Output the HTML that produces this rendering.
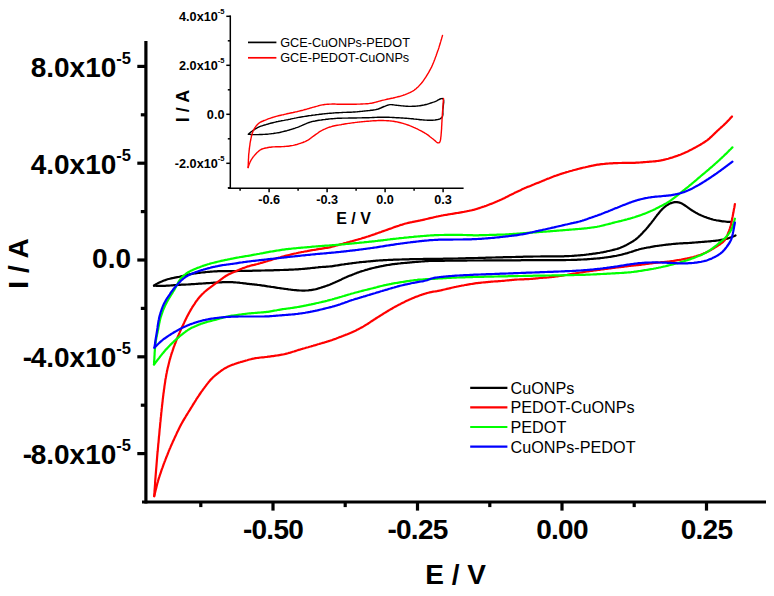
<!DOCTYPE html>
<html><head><meta charset="utf-8"><title>CV plot</title>
<style>html,body{margin:0;padding:0;background:#fff;}body{width:774px;height:596px;overflow:hidden;}svg{display:block;font-family:"Liberation Sans",sans-serif;}</style>
</head><body>
<svg width="774" height="596" viewBox="0 0 774 596">
<rect x="0" y="0" width="774" height="596" fill="#fff"/>
<path d="M154.0,285.6 L155.0,284.9 L156.1,284.2 L157.2,283.6 L158.3,283.0 L159.4,282.5 L160.5,282.0 L161.7,281.5 L162.8,281.0 L164.0,280.5 L165.2,280.1 L166.3,279.7 L167.5,279.3 L168.7,279.0 L169.9,278.7 L171.2,278.4 L172.4,278.1 L173.6,277.9 L174.8,277.6 L176.1,277.4 L177.3,277.2 L178.5,277.0 L179.7,276.7 L181.0,276.4 L182.2,276.1 L183.4,275.8 L184.6,275.5 L185.8,275.2 L187.0,274.9 L188.2,274.6 L189.5,274.4 L190.7,274.1 L191.9,273.9 L193.1,273.7 L194.4,273.5 L195.6,273.3 L196.8,273.1 L198.1,272.9 L199.3,272.8 L200.6,272.6 L201.8,272.5 L203.1,272.4 L204.3,272.3 L205.5,272.1 L206.8,272.0 L208.0,271.9 L209.3,271.8 L210.5,271.7 L211.8,271.6 L213.0,271.5 L214.3,271.4 L215.5,271.4 L216.8,271.3 L218.0,271.2 L219.3,271.2 L220.5,271.2 L221.8,271.1 L223.0,271.1 L224.3,271.1 L225.5,271.1 L226.8,271.1 L228.0,271.1 L229.3,271.1 L230.5,271.1 L231.8,271.1 L233.0,271.1 L234.3,271.1 L235.5,271.1 L236.8,271.1 L238.0,271.0 L239.3,271.0 L240.5,271.0 L241.8,271.0 L243.0,271.0 L244.3,270.9 L245.5,270.9 L246.8,270.9 L248.0,270.8 L249.3,270.8 L250.5,270.8 L251.8,270.8 L253.0,270.7 L254.3,270.7 L255.5,270.7 L256.8,270.6 L258.0,270.6 L259.3,270.6 L260.5,270.6 L261.8,270.5 L263.0,270.5 L264.3,270.5 L265.5,270.4 L266.8,270.4 L268.0,270.4 L269.3,270.3 L270.5,270.3 L271.8,270.3 L273.0,270.3 L274.3,270.2 L275.5,270.2 L276.8,270.1 L278.0,270.1 L279.3,270.1 L280.5,270.0 L281.8,270.0 L283.0,270.0 L284.2,269.9 L285.5,269.9 L286.7,269.8 L288.0,269.8 L289.2,269.7 L290.5,269.7 L291.7,269.6 L293.0,269.6 L294.2,269.5 L295.5,269.4 L296.7,269.4 L298.0,269.3 L299.2,269.2 L300.5,269.1 L301.7,269.0 L303.0,268.9 L304.2,268.8 L305.5,268.7 L306.7,268.6 L307.9,268.4 L309.2,268.3 L310.4,268.2 L311.7,268.0 L312.9,267.9 L314.2,267.8 L315.4,267.6 L316.6,267.5 L317.9,267.4 L319.1,267.2 L320.4,267.1 L321.6,267.0 L322.9,266.9 L324.1,266.9 L325.4,266.8 L326.6,266.7 L327.9,266.6 L329.1,266.5 L330.4,266.4 L331.6,266.3 L332.8,266.1 L334.1,265.9 L335.3,265.7 L336.5,265.5 L337.8,265.3 L339.0,265.1 L340.2,264.9 L341.5,264.7 L342.7,264.5 L343.9,264.4 L345.2,264.2 L346.4,264.0 L347.7,263.8 L348.9,263.6 L350.1,263.5 L351.4,263.3 L352.6,263.1 L353.8,263.0 L355.1,262.8 L356.3,262.7 L357.6,262.5 L358.8,262.4 L360.1,262.2 L361.3,262.1 L362.5,262.0 L363.8,261.9 L365.0,261.8 L366.3,261.6 L367.5,261.5 L368.8,261.4 L370.0,261.3 L371.3,261.2 L372.5,261.1 L373.7,260.9 L375.0,260.8 L376.2,260.7 L377.5,260.6 L378.7,260.5 L380.0,260.4 L381.2,260.3 L382.5,260.3 L383.7,260.2 L385.0,260.1 L386.2,260.1 L387.5,260.0 L388.7,259.9 L390.0,259.9 L391.2,259.8 L392.5,259.8 L393.7,259.7 L395.0,259.7 L396.2,259.6 L397.5,259.6 L398.7,259.6 L400.0,259.5 L401.2,259.5 L402.5,259.4 L403.7,259.4 L405.0,259.4 L406.2,259.3 L407.5,259.3 L408.7,259.3 L410.0,259.2 L411.2,259.2 L412.5,259.2 L413.7,259.1 L415.0,259.1 L416.2,259.1 L417.5,259.1 L418.7,259.0 L420.0,259.0 L421.2,259.0 L422.5,259.0 L423.7,258.9 L424.9,258.9 L426.2,258.9 L427.4,258.9 L428.6,258.8 L429.7,258.8 L430.7,258.8 L431.7,258.9 L432.7,258.9 L433.8,258.9 L435.0,258.9 L436.2,258.9 L437.5,258.8 L438.7,258.8 L440.0,258.8 L441.2,258.8 L442.5,258.8 L443.7,258.7 L445.0,258.7 L446.2,258.7 L447.5,258.7 L448.7,258.6 L450.0,258.6 L451.2,258.6 L452.5,258.6 L453.7,258.5 L455.0,258.5 L456.2,258.5 L457.5,258.5 L458.7,258.4 L460.0,258.4 L461.2,258.4 L462.5,258.3 L463.7,258.3 L465.0,258.3 L466.2,258.2 L467.5,258.2 L468.7,258.2 L470.0,258.1 L471.2,258.1 L472.4,258.1 L473.7,258.1 L474.9,258.0 L476.2,258.0 L477.4,258.0 L478.7,257.9 L479.9,257.9 L481.2,257.9 L482.4,257.8 L483.7,257.8 L484.9,257.8 L486.2,257.7 L487.4,257.7 L488.7,257.6 L489.9,257.6 L491.2,257.6 L492.4,257.5 L493.7,257.5 L494.9,257.5 L496.2,257.4 L497.4,257.4 L498.7,257.4 L499.9,257.3 L501.2,257.3 L502.4,257.3 L503.7,257.2 L504.9,257.2 L506.2,257.2 L507.4,257.2 L508.7,257.1 L509.9,257.1 L511.2,257.1 L512.4,257.0 L513.7,257.0 L514.9,257.0 L516.2,256.9 L517.4,256.9 L518.7,256.9 L519.9,256.8 L521.2,256.8 L522.4,256.8 L523.7,256.7 L524.9,256.7 L526.2,256.7 L527.4,256.7 L528.7,256.6 L529.9,256.6 L531.2,256.6 L532.4,256.6 L533.7,256.5 L534.9,256.5 L536.2,256.5 L537.4,256.5 L538.7,256.5 L539.9,256.5 L541.2,256.4 L542.4,256.4 L543.7,256.4 L544.9,256.4 L546.2,256.4 L547.4,256.4 L548.7,256.4 L549.9,256.4 L551.2,256.4 L552.4,256.4 L553.7,256.4 L554.9,256.4 L556.2,256.4 L557.4,256.4 L558.7,256.4 L559.9,256.3 L561.2,256.3 L562.4,256.3 L563.7,256.3 L564.9,256.2 L566.2,256.2 L567.4,256.1 L568.7,256.1 L569.9,256.0 L571.2,256.0 L572.4,255.9 L573.7,255.8 L574.9,255.7 L576.2,255.6 L577.4,255.5 L578.7,255.4 L579.9,255.3 L581.2,255.2 L582.4,255.1 L583.6,255.0 L584.9,254.8 L586.1,254.7 L587.4,254.5 L588.6,254.4 L589.8,254.2 L591.1,254.1 L592.3,253.9 L593.6,253.7 L594.8,253.6 L596.0,253.4 L597.3,253.2 L598.5,253.0 L599.7,252.8 L601.0,252.5 L602.2,252.3 L603.4,252.1 L604.6,251.8 L605.9,251.6 L607.1,251.3 L608.3,251.0 L609.5,250.8 L610.8,250.5 L612.0,250.2 L613.2,249.9 L614.4,249.6 L615.6,249.3 L616.8,249.0 L618.0,248.6 L619.2,248.2 L620.4,247.8 L621.5,247.3 L622.7,246.8 L623.8,246.3 L624.9,245.7 L626.0,245.2 L627.1,244.6 L628.2,244.0 L629.3,243.4 L630.4,242.8 L631.5,242.1 L632.6,241.5 L633.6,240.8 L634.7,240.1 L635.7,239.4 L636.6,238.6 L637.6,237.8 L638.5,237.0 L639.4,236.1 L640.3,235.3 L641.2,234.4 L642.1,233.5 L642.9,232.6 L643.8,231.6 L644.6,230.7 L645.5,229.8 L646.3,228.9 L647.1,227.9 L647.9,227.0 L648.7,226.0 L649.5,225.0 L650.3,224.1 L651.1,223.1 L651.8,222.1 L652.6,221.1 L653.4,220.1 L654.1,219.1 L654.9,218.1 L655.6,217.1 L656.4,216.1 L657.1,215.1 L657.9,214.2 L658.7,213.2 L659.5,212.2 L660.3,211.3 L661.2,210.3 L662.0,209.4 L662.9,208.5 L663.8,207.7 L664.7,206.9 L665.7,206.1 L666.7,205.4 L667.8,204.7 L668.9,204.1 L670.0,203.6 L671.1,203.1 L672.3,202.7 L673.5,202.4 L674.7,202.2 L675.9,202.1 L677.1,202.1 L678.4,202.3 L679.5,202.6 L680.7,203.0 L681.8,203.5 L682.9,204.1 L683.9,204.8 L685.0,205.5 L686.0,206.2 L687.0,206.9 L688.0,207.6 L689.1,208.4 L690.1,209.1 L691.1,209.8 L692.2,210.5 L693.2,211.1 L694.3,211.8 L695.3,212.4 L696.4,213.1 L697.5,213.6 L698.6,214.2 L699.8,214.7 L700.9,215.3 L702.1,215.8 L703.2,216.2 L704.4,216.7 L705.5,217.1 L706.7,217.6 L707.9,218.0 L709.1,218.4 L710.3,218.8 L711.5,219.1 L712.7,219.5 L713.9,219.8 L715.1,220.0 L716.3,220.3 L717.5,220.5 L718.8,220.7 L720.0,220.9 L721.2,221.1 L722.5,221.3 L723.7,221.4 L725.0,221.5 L726.2,221.7 L727.5,221.8 L728.7,221.9 L730.0,221.9 L731.2,222.0" fill="none" stroke="#000" stroke-width="2.2" stroke-linejoin="round" stroke-linecap="round"/>
<path d="M735.5,235.5 L734.4,236.0 L733.2,236.5 L732.0,237.0 L730.9,237.4 L729.7,237.8 L728.5,238.2 L727.3,238.6 L726.1,238.9 L724.9,239.2 L723.7,239.4 L722.4,239.7 L721.2,239.9 L720.0,240.1 L718.7,240.3 L717.5,240.5 L716.3,240.6 L715.0,240.8 L713.8,240.9 L712.5,241.0 L711.3,241.1 L710.0,241.3 L708.8,241.4 L707.5,241.5 L706.3,241.6 L705.1,241.7 L703.8,241.8 L702.6,241.9 L701.3,242.0 L700.1,242.1 L698.8,242.2 L697.6,242.3 L696.3,242.4 L695.1,242.5 L693.8,242.6 L692.6,242.7 L691.3,242.8 L690.1,242.9 L688.8,243.0 L687.6,243.1 L686.3,243.1 L685.1,243.2 L683.8,243.2 L682.6,243.3 L681.3,243.4 L680.1,243.4 L678.8,243.5 L677.6,243.6 L676.4,243.7 L675.1,243.8 L673.9,243.9 L672.6,244.0 L671.4,244.2 L670.1,244.3 L668.9,244.4 L667.6,244.6 L666.4,244.7 L665.2,244.8 L663.9,245.0 L662.7,245.2 L661.4,245.3 L660.2,245.5 L659.0,245.7 L657.7,245.8 L656.5,246.0 L655.2,246.2 L654.0,246.4 L652.8,246.6 L651.5,246.8 L650.3,247.1 L649.1,247.3 L647.8,247.5 L646.6,247.7 L645.4,248.0 L644.2,248.2 L642.9,248.5 L641.7,248.7 L640.5,249.0 L639.3,249.3 L638.1,249.7 L636.9,250.0 L635.7,250.4 L634.5,250.8 L633.3,251.2 L632.1,251.6 L630.9,252.0 L629.7,252.3 L628.5,252.7 L627.3,253.1 L626.1,253.4 L624.9,253.7 L623.7,254.0 L622.5,254.4 L621.3,254.7 L620.1,255.0 L618.9,255.2 L617.6,255.5 L616.4,255.8 L615.2,256.0 L614.0,256.2 L612.7,256.4 L611.5,256.6 L610.3,256.8 L609.0,257.0 L607.8,257.2 L606.5,257.3 L605.3,257.5 L604.1,257.7 L602.8,257.8 L601.6,258.0 L600.3,258.1 L599.1,258.3 L597.8,258.4 L596.6,258.5 L595.4,258.6 L594.1,258.7 L592.9,258.8 L591.6,258.9 L590.4,259.0 L589.1,259.1 L587.9,259.2 L586.6,259.3 L585.4,259.3 L584.1,259.4 L582.9,259.5 L581.6,259.5 L580.4,259.6 L579.1,259.7 L577.9,259.7 L576.6,259.8 L575.4,259.8 L574.1,259.8 L572.9,259.9 L571.6,259.9 L570.4,260.0 L569.1,260.0 L567.9,260.0 L566.6,260.0 L565.4,260.1 L564.1,260.1 L562.9,260.1 L561.6,260.1 L560.4,260.1 L559.1,260.1 L557.9,260.1 L556.6,260.1 L555.4,260.1 L554.1,260.2 L552.9,260.2 L551.6,260.2 L550.4,260.2 L549.1,260.2 L547.9,260.2 L546.6,260.2 L545.4,260.2 L544.1,260.2 L542.9,260.2 L541.6,260.2 L540.4,260.2 L539.1,260.2 L537.8,260.2 L536.6,260.2 L535.3,260.2 L534.1,260.2 L532.8,260.2 L531.6,260.2 L530.3,260.2 L529.1,260.2 L527.8,260.2 L526.6,260.2 L525.3,260.2 L524.1,260.2 L522.8,260.2 L521.6,260.2 L520.3,260.3 L519.1,260.3 L517.8,260.3 L516.6,260.3 L515.3,260.3 L514.1,260.3 L512.8,260.3 L511.6,260.3 L510.3,260.3 L509.1,260.3 L507.8,260.3 L506.6,260.3 L505.3,260.3 L504.1,260.3 L502.8,260.3 L501.6,260.3 L500.3,260.4 L499.1,260.4 L497.8,260.4 L496.6,260.4 L495.3,260.4 L494.1,260.4 L492.8,260.4 L491.6,260.4 L490.3,260.4 L489.1,260.4 L487.8,260.4 L486.6,260.4 L485.3,260.4 L484.1,260.4 L482.8,260.5 L481.5,260.5 L480.3,260.5 L479.0,260.5 L477.8,260.5 L476.5,260.5 L475.3,260.5 L474.0,260.5 L472.8,260.5 L471.5,260.5 L470.3,260.5 L469.0,260.5 L467.8,260.5 L466.5,260.6 L465.3,260.6 L464.0,260.6 L462.8,260.6 L461.5,260.6 L460.3,260.6 L459.0,260.6 L457.8,260.6 L456.5,260.6 L455.3,260.6 L454.0,260.7 L452.8,260.7 L451.5,260.7 L450.3,260.7 L449.0,260.7 L447.8,260.7 L446.5,260.7 L445.3,260.7 L444.0,260.8 L442.8,260.8 L441.5,260.8 L440.3,260.8 L439.0,260.8 L437.8,260.8 L436.5,260.9 L435.3,260.9 L434.0,260.9 L432.8,260.9 L431.5,261.0 L430.3,261.0 L429.0,261.0 L427.8,261.1 L426.5,261.1 L425.3,261.2 L424.0,261.3 L422.8,261.4 L421.5,261.5 L420.3,261.6 L419.0,261.7 L417.8,261.8 L416.5,261.9 L415.3,262.0 L414.0,262.1 L412.8,262.2 L411.5,262.3 L410.3,262.4 L409.1,262.6 L407.8,262.7 L406.6,262.8 L405.3,262.9 L404.1,263.0 L402.8,263.1 L401.6,263.2 L400.3,263.4 L399.1,263.5 L397.8,263.6 L396.6,263.8 L395.4,263.9 L394.1,264.1 L392.9,264.2 L391.6,264.4 L390.4,264.6 L389.2,264.8 L387.9,265.0 L386.7,265.2 L385.5,265.4 L384.2,265.6 L383.0,265.9 L381.8,266.1 L380.5,266.3 L379.3,266.6 L378.1,266.9 L376.9,267.1 L375.7,267.4 L374.4,267.7 L373.2,268.0 L372.0,268.3 L370.8,268.6 L369.6,268.9 L368.4,269.2 L367.2,269.6 L366.0,269.9 L364.8,270.3 L363.6,270.7 L362.4,271.0 L361.2,271.4 L360.0,271.8 L358.8,272.2 L357.7,272.6 L356.5,273.1 L355.3,273.5 L354.1,274.0 L353.0,274.4 L351.8,274.9 L350.7,275.4 L349.5,275.8 L348.3,276.3 L347.2,276.8 L346.1,277.3 L344.9,277.8 L343.8,278.3 L342.6,278.8 L341.5,279.4 L340.3,279.9 L339.2,280.4 L338.1,280.9 L336.9,281.5 L335.8,282.0 L334.7,282.5 L333.5,283.0 L332.4,283.5 L331.2,284.0 L330.1,284.5 L328.9,285.0 L327.7,285.4 L326.6,285.8 L325.4,286.2 L324.2,286.6 L323.0,287.0 L321.8,287.4 L320.6,287.8 L319.4,288.1 L318.2,288.5 L317.0,288.9 L315.8,289.2 L314.6,289.5 L313.4,289.7 L312.2,289.9 L310.9,290.1 L309.7,290.2 L308.4,290.4 L307.2,290.5 L305.9,290.5 L304.7,290.6 L303.4,290.6 L302.2,290.6 L300.9,290.5 L299.7,290.5 L298.4,290.4 L297.2,290.3 L296.0,290.2 L294.7,290.1 L293.5,290.0 L292.2,289.8 L291.0,289.7 L289.7,289.5 L288.5,289.4 L287.3,289.2 L286.0,289.0 L284.8,288.8 L283.5,288.7 L282.3,288.5 L281.1,288.3 L279.8,288.1 L278.6,288.0 L277.3,287.8 L276.1,287.6 L274.9,287.4 L273.6,287.2 L272.4,287.0 L271.2,286.9 L269.9,286.7 L268.7,286.5 L267.4,286.3 L266.2,286.1 L265.0,285.9 L263.7,285.7 L262.5,285.6 L261.3,285.4 L260.0,285.2 L258.8,285.0 L257.5,284.9 L256.3,284.7 L255.1,284.6 L253.8,284.4 L252.6,284.3 L251.3,284.2 L250.1,284.1 L248.8,283.9 L247.6,283.8 L246.4,283.6 L245.1,283.4 L243.9,283.3 L242.6,283.1 L241.4,283.0 L240.2,282.9 L238.9,282.7 L237.7,282.6 L236.4,282.5 L235.2,282.4 L233.9,282.3 L232.7,282.2 L231.4,282.2 L230.2,282.2 L228.9,282.1 L227.7,282.1 L226.4,282.1 L225.2,282.1 L223.9,282.2 L222.7,282.2 L221.4,282.3 L220.2,282.3 L218.9,282.4 L217.7,282.5 L216.4,282.6 L215.2,282.7 L213.9,282.7 L212.7,282.8 L211.4,282.9 L210.2,283.0 L208.9,283.1 L207.7,283.2 L206.4,283.2 L205.2,283.3 L203.9,283.4 L202.7,283.5 L201.4,283.6 L200.2,283.7 L198.9,283.7 L197.7,283.8 L196.5,283.9 L195.2,284.0 L194.0,284.1 L192.7,284.2 L191.5,284.2 L190.2,284.3 L189.0,284.4 L187.7,284.5 L186.5,284.5 L185.2,284.6 L184.0,284.6 L182.7,284.7 L181.5,284.7 L180.2,284.8 L179.0,284.9 L177.7,285.0 L176.5,285.1 L175.2,285.1 L174.0,285.2 L172.7,285.3 L171.5,285.4 L170.2,285.5 L169.0,285.6 L167.7,285.6 L166.5,285.7 L165.2,285.8 L164.0,285.8 L162.7,285.9 L161.5,285.9 L160.2,285.9 L159.0,285.9 L157.7,285.9 L156.5,285.8 L155.2,285.7 L154.0,285.6" fill="none" stroke="#000" stroke-width="2.2" stroke-linejoin="round" stroke-linecap="round"/>
<path d="M154.2,496.2 L154.3,495.0 L154.4,493.7 L154.5,492.5 L154.5,491.2 L154.6,490.0 L154.7,488.7 L154.8,487.5 L154.9,486.2 L155.0,485.0 L155.1,483.7 L155.1,482.5 L155.2,481.2 L155.3,480.0 L155.4,478.7 L155.5,477.5 L155.6,476.2 L155.7,475.0 L155.8,473.7 L155.9,472.5 L156.0,471.2 L156.1,470.0 L156.2,468.7 L156.3,467.5 L156.4,466.3 L156.5,465.0 L156.6,463.8 L156.7,462.5 L156.8,461.3 L156.9,460.0 L157.0,458.8 L157.1,457.5 L157.2,456.3 L157.3,455.0 L157.4,453.8 L157.5,452.5 L157.7,451.3 L157.8,450.0 L157.9,448.8 L158.0,447.6 L158.1,446.3 L158.2,445.1 L158.3,443.8 L158.5,442.6 L158.6,441.3 L158.7,440.1 L158.8,438.8 L158.9,437.6 L159.0,436.3 L159.2,435.1 L159.3,433.9 L159.4,432.6 L159.5,431.4 L159.6,430.1 L159.7,428.9 L159.9,427.6 L160.0,426.4 L160.1,425.1 L160.2,423.9 L160.3,422.6 L160.5,421.4 L160.6,420.2 L160.7,418.9 L160.8,417.7 L161.0,416.4 L161.1,415.2 L161.2,413.9 L161.3,412.7 L161.5,411.4 L161.6,410.2 L161.7,409.0 L161.9,407.7 L162.0,406.5 L162.1,405.2 L162.3,404.0 L162.4,402.7 L162.6,401.5 L162.7,400.2 L162.8,399.0 L163.0,397.8 L163.1,396.5 L163.3,395.3 L163.4,394.0 L163.6,392.8 L163.8,391.6 L163.9,390.3 L164.1,389.1 L164.3,387.8 L164.4,386.6 L164.6,385.4 L164.8,384.1 L165.0,382.9 L165.2,381.6 L165.3,380.4 L165.5,379.2 L165.8,377.9 L166.0,376.7 L166.2,375.5 L166.4,374.2 L166.7,373.0 L166.9,371.8 L167.2,370.6 L167.4,369.4 L167.7,368.1 L168.0,366.9 L168.3,365.7 L168.6,364.5 L168.9,363.3 L169.2,362.1 L169.5,360.8 L169.8,359.6 L170.2,358.4 L170.5,357.2 L170.9,356.0 L171.2,354.8 L171.6,353.6 L172.0,352.4 L172.4,351.3 L172.8,350.1 L173.2,348.9 L173.6,347.7 L174.0,346.5 L174.5,345.4 L174.9,344.2 L175.4,343.0 L175.8,341.9 L176.3,340.7 L176.7,339.5 L177.2,338.4 L177.6,337.2 L178.1,336.0 L178.6,334.9 L179.1,333.7 L179.6,332.6 L180.1,331.4 L180.6,330.3 L181.1,329.2 L181.6,328.0 L182.2,326.9 L182.7,325.8 L183.2,324.6 L183.8,323.5 L184.3,322.4 L184.8,321.2 L185.4,320.1 L185.9,319.0 L186.5,317.9 L187.0,316.7 L187.6,315.6 L188.2,314.5 L188.8,313.4 L189.4,312.3 L190.0,311.2 L190.6,310.1 L191.2,309.1 L191.9,308.0 L192.5,306.9 L193.2,305.8 L193.9,304.8 L194.6,303.8 L195.3,302.7 L196.0,301.7 L196.7,300.7 L197.5,299.7 L198.2,298.7 L199.0,297.7 L199.8,296.8 L200.7,295.9 L201.5,294.9 L202.4,294.0 L203.3,293.2 L204.2,292.3 L205.1,291.5 L206.1,290.7 L207.0,289.9 L208.0,289.1 L209.0,288.3 L210.0,287.6 L211.0,286.8 L212.0,286.1 L213.0,285.3 L214.0,284.6 L215.0,283.8 L216.1,283.1 L217.1,282.4 L218.1,281.7 L219.1,281.0 L220.1,280.2 L221.1,279.4 L222.1,278.7 L223.1,277.9 L224.1,277.2 L225.1,276.5 L226.2,275.8 L227.2,275.2 L228.4,274.6 L229.5,274.1 L230.6,273.5 L231.7,273.0 L232.8,272.4 L234.0,271.9 L235.1,271.4 L236.3,270.9 L237.4,270.4 L238.6,270.0 L239.7,269.5 L240.9,269.0 L242.1,268.6 L243.2,268.1 L244.4,267.7 L245.6,267.3 L246.8,266.8 L247.9,266.4 L249.1,266.1 L250.3,265.7 L251.5,265.4 L252.8,265.1 L254.0,264.9 L255.2,264.6 L256.4,264.3 L257.6,264.0 L258.8,263.6 L260.0,263.3 L261.2,262.9 L262.4,262.6 L263.6,262.2 L264.8,261.9 L266.0,261.5 L267.2,261.2 L268.4,260.8 L269.6,260.4 L270.8,260.1 L272.0,259.7 L273.2,259.3 L274.4,259.0 L275.6,258.6 L276.8,258.2 L278.0,257.9 L279.2,257.5 L280.4,257.2 L281.6,256.8 L282.8,256.5 L284.0,256.2 L285.2,255.9 L286.4,255.6 L287.7,255.3 L288.9,255.0 L290.1,254.7 L291.3,254.4 L292.5,254.1 L293.7,253.8 L295.0,253.5 L296.2,253.3 L297.4,253.0 L298.6,252.7 L299.9,252.5 L301.1,252.2 L302.3,252.0 L303.5,251.8 L304.8,251.5 L306.0,251.3 L307.2,251.1 L308.5,250.8 L309.7,250.6 L310.9,250.4 L312.2,250.2 L313.4,250.0 L314.6,249.8 L315.9,249.6 L317.1,249.3 L318.3,249.1 L319.6,248.9 L320.8,248.8 L322.0,248.6 L323.3,248.4 L324.5,248.2 L325.7,248.0 L327.0,247.8 L328.2,247.6 L329.4,247.4 L330.7,247.1 L331.9,246.8 L333.1,246.5 L334.3,246.2 L335.5,245.8 L336.7,245.5 L337.9,245.1 L339.1,244.8 L340.3,244.4 L341.5,244.1 L342.7,243.8 L343.9,243.4 L345.1,243.1 L346.3,242.8 L347.5,242.4 L348.7,242.1 L349.9,241.7 L351.1,241.4 L352.4,241.1 L353.6,240.7 L354.8,240.4 L356.0,240.0 L357.2,239.7 L358.4,239.4 L359.6,239.0 L360.8,238.7 L362.0,238.3 L363.2,237.9 L364.4,237.6 L365.6,237.2 L366.8,236.8 L367.9,236.5 L369.1,236.1 L370.3,235.7 L371.5,235.3 L372.7,234.9 L373.9,234.5 L375.1,234.1 L376.2,233.6 L377.4,233.2 L378.6,232.8 L379.8,232.4 L381.0,232.0 L382.1,231.5 L383.3,231.1 L384.5,230.7 L385.7,230.3 L386.8,229.9 L388.0,229.4 L389.2,229.0 L390.4,228.6 L391.6,228.2 L392.7,227.8 L393.9,227.3 L395.1,226.9 L396.3,226.5 L397.5,226.1 L398.7,225.7 L399.8,225.3 L401.0,224.9 L402.2,224.6 L403.4,224.2 L404.6,223.8 L405.8,223.5 L407.0,223.2 L408.2,222.9 L409.5,222.6 L410.7,222.3 L411.9,222.1 L413.1,221.8 L414.4,221.6 L415.6,221.4 L416.8,221.2 L418.1,220.9 L419.3,220.7 L420.5,220.4 L421.7,220.2 L422.9,219.9 L424.2,219.6 L425.4,219.3 L426.6,219.0 L427.8,218.7 L429.0,218.4 L430.2,218.1 L431.5,217.8 L432.7,217.6 L433.9,217.3 L435.1,217.0 L436.3,216.7 L437.6,216.5 L438.8,216.2 L440.0,216.0 L441.2,215.7 L442.5,215.5 L443.7,215.2 L444.9,215.0 L446.2,214.8 L447.4,214.6 L448.6,214.3 L449.9,214.2 L451.1,214.0 L452.3,213.8 L453.6,213.6 L454.8,213.4 L456.0,213.2 L457.3,213.0 L458.5,212.8 L459.7,212.6 L461.0,212.4 L462.2,212.2 L463.4,212.0 L464.7,211.7 L465.9,211.5 L467.1,211.2 L468.3,211.0 L469.6,210.7 L470.8,210.5 L472.0,210.2 L473.2,209.9 L474.4,209.6 L475.6,209.2 L476.8,208.9 L478.0,208.5 L479.2,208.1 L480.4,207.7 L481.6,207.3 L482.8,206.9 L484.0,206.5 L485.1,206.1 L486.3,205.7 L487.5,205.2 L488.7,204.8 L489.8,204.3 L491.0,203.9 L492.2,203.4 L493.3,203.0 L494.5,202.5 L495.6,202.0 L496.8,201.5 L497.9,201.0 L499.1,200.5 L500.2,200.0 L501.4,199.5 L502.5,199.0 L503.6,198.4 L504.7,197.9 L505.9,197.3 L507.0,196.8 L508.1,196.2 L509.2,195.6 L510.3,195.1 L511.4,194.5 L512.6,193.9 L513.7,193.4 L514.8,192.8 L515.9,192.3 L517.1,191.7 L518.2,191.2 L519.3,190.7 L520.5,190.2 L521.6,189.6 L522.7,189.1 L523.9,188.6 L525.0,188.1 L526.2,187.6 L527.3,187.1 L528.5,186.6 L529.6,186.2 L530.8,185.7 L531.9,185.2 L533.1,184.7 L534.3,184.3 L535.4,183.8 L536.6,183.3 L537.8,182.9 L538.9,182.4 L540.1,181.9 L541.2,181.5 L542.4,181.0 L543.6,180.5 L544.7,180.1 L545.9,179.6 L547.0,179.1 L548.2,178.6 L549.3,178.2 L550.5,177.7 L551.7,177.2 L552.8,176.8 L554.0,176.3 L555.2,175.9 L556.4,175.5 L557.5,175.1 L558.7,174.7 L559.9,174.3 L561.1,173.9 L562.3,173.5 L563.5,173.1 L564.7,172.8 L565.9,172.4 L567.1,172.0 L568.3,171.7 L569.5,171.3 L570.7,171.0 L571.9,170.7 L573.1,170.3 L574.3,170.0 L575.5,169.7 L576.7,169.4 L577.9,169.0 L579.1,168.7 L580.4,168.4 L581.6,168.1 L582.8,167.8 L584.0,167.5 L585.2,167.3 L586.4,167.0 L587.7,166.7 L588.9,166.4 L590.1,166.2 L591.3,165.9 L592.5,165.7 L593.8,165.4 L595.0,165.2 L596.2,164.9 L597.5,164.7 L598.7,164.6 L599.9,164.4 L601.2,164.2 L602.4,164.1 L603.7,164.0 L604.9,163.8 L606.2,163.7 L607.4,163.6 L608.7,163.5 L609.9,163.4 L611.2,163.4 L612.4,163.3 L613.6,163.2 L614.9,163.2 L616.1,163.1 L617.4,163.1 L618.7,163.0 L619.9,163.0 L621.2,163.0 L622.4,162.9 L623.7,162.9 L624.9,162.9 L626.2,162.9 L627.4,162.9 L628.7,162.9 L629.9,162.8 L631.2,162.8 L632.4,162.8 L633.7,162.8 L634.9,162.8 L636.2,162.7 L637.4,162.7 L638.7,162.6 L639.9,162.5 L641.2,162.4 L642.4,162.3 L643.6,162.2 L644.9,162.1 L646.1,162.0 L647.4,161.9 L648.6,161.8 L649.9,161.7 L651.1,161.6 L652.4,161.5 L653.6,161.4 L654.9,161.3 L656.1,161.1 L657.4,161.0 L658.6,160.8 L659.8,160.7 L661.1,160.4 L662.3,160.2 L663.5,159.9 L664.7,159.6 L665.9,159.3 L667.1,159.0 L668.3,158.7 L669.5,158.3 L670.7,157.9 L671.9,157.6 L673.1,157.2 L674.3,156.8 L675.5,156.4 L676.7,156.0 L677.9,155.6 L679.0,155.1 L680.2,154.7 L681.4,154.2 L682.5,153.7 L683.7,153.2 L684.8,152.7 L685.9,152.2 L687.1,151.7 L688.2,151.2 L689.3,150.6 L690.5,150.0 L691.6,149.5 L692.7,148.9 L693.8,148.3 L694.9,147.7 L696.0,147.1 L697.1,146.5 L698.2,145.9 L699.3,145.3 L700.3,144.7 L701.4,144.0 L702.5,143.4 L703.5,142.7 L704.6,142.0 L705.6,141.3 L706.7,140.6 L707.7,139.9 L708.6,139.1 L709.6,138.3 L710.5,137.4 L711.4,136.6 L712.3,135.7 L713.2,134.9 L714.1,134.0 L715.0,133.1 L715.9,132.2 L716.8,131.4 L717.7,130.5 L718.7,129.7 L719.6,128.8 L720.5,128.0 L721.4,127.1 L722.4,126.3 L723.3,125.5 L724.2,124.6 L725.1,123.7 L726.0,122.9 L726.9,122.0 L727.7,121.1 L728.6,120.2 L729.5,119.3 L730.3,118.3 L731.2,117.4 L732.0,116.5" fill="none" stroke="#f00" stroke-width="2.2" stroke-linejoin="round" stroke-linecap="round"/>
<path d="M734.9,204.0 L734.7,205.2 L734.5,206.5 L734.3,207.7 L734.0,208.9 L733.8,210.2 L733.6,211.4 L733.4,212.6 L733.1,213.9 L732.9,215.1 L732.7,216.3 L732.4,217.5 L732.2,218.8 L731.9,220.0 L731.7,221.2 L731.4,222.4 L731.1,223.7 L730.9,224.9 L730.6,226.1 L730.2,227.3 L729.9,228.5 L729.5,229.7 L729.1,230.9 L728.6,232.0 L728.1,233.2 L727.7,234.3 L727.2,235.5 L726.7,236.6 L726.2,237.8 L725.6,238.8 L724.9,239.8 L724.2,240.8 L723.3,241.6 L722.4,242.5 L721.4,243.2 L720.4,244.0 L719.3,244.7 L718.3,245.4 L717.3,246.1 L716.2,246.7 L715.1,247.4 L714.1,248.1 L713.0,248.7 L711.9,249.3 L710.9,250.0 L709.8,250.6 L708.7,251.2 L707.5,251.7 L706.4,252.3 L705.3,252.8 L704.1,253.3 L703.0,253.8 L701.8,254.2 L700.6,254.7 L699.5,255.1 L698.3,255.5 L697.1,255.9 L695.9,256.3 L694.7,256.6 L693.5,257.0 L692.3,257.3 L691.1,257.6 L689.9,257.9 L688.6,258.2 L687.4,258.4 L686.2,258.7 L685.0,258.9 L683.7,259.1 L682.5,259.3 L681.3,259.6 L680.0,259.8 L678.8,260.0 L677.6,260.2 L676.3,260.4 L675.1,260.6 L673.9,260.8 L672.6,261.0 L671.4,261.1 L670.1,261.3 L668.9,261.5 L667.7,261.6 L666.4,261.8 L665.2,261.9 L663.9,262.0 L662.7,262.1 L661.4,262.2 L660.2,262.4 L658.9,262.5 L657.7,262.6 L656.5,262.7 L655.2,262.9 L654.0,263.0 L652.7,263.2 L651.5,263.4 L650.2,263.5 L649.0,263.7 L647.8,263.9 L646.5,264.0 L645.3,264.2 L644.0,264.3 L642.8,264.5 L641.6,264.6 L640.3,264.8 L639.1,264.9 L637.8,265.1 L636.6,265.2 L635.3,265.3 L634.1,265.4 L632.8,265.6 L631.6,265.7 L630.4,265.9 L629.1,266.0 L627.9,266.2 L626.6,266.3 L625.4,266.5 L624.1,266.6 L622.9,266.8 L621.7,266.9 L620.4,267.1 L619.2,267.2 L617.9,267.4 L616.7,267.5 L615.5,267.7 L614.2,267.8 L613.0,268.0 L611.7,268.2 L610.5,268.3 L609.3,268.5 L608.0,268.6 L606.8,268.8 L605.5,269.0 L604.3,269.1 L603.0,269.3 L601.8,269.5 L600.6,269.6 L599.3,269.8 L598.1,270.0 L596.8,270.1 L595.6,270.3 L594.4,270.5 L593.1,270.6 L591.9,270.8 L590.7,271.0 L589.4,271.2 L588.2,271.3 L586.9,271.5 L585.7,271.7 L584.5,271.9 L583.2,272.1 L582.0,272.3 L580.7,272.5 L579.5,272.7 L578.3,272.9 L577.0,273.1 L575.8,273.3 L574.6,273.5 L573.3,273.7 L572.1,273.9 L570.9,274.1 L569.6,274.3 L568.4,274.5 L567.2,274.8 L565.9,275.0 L564.7,275.2 L563.5,275.4 L562.2,275.6 L561.0,275.8 L559.8,276.0 L558.5,276.2 L557.3,276.4 L556.1,276.5 L554.8,276.7 L553.6,276.9 L552.3,277.0 L551.1,277.1 L549.8,277.2 L548.6,277.4 L547.3,277.5 L546.1,277.6 L544.9,277.6 L543.6,277.7 L542.4,277.8 L541.1,277.9 L539.9,278.0 L538.6,278.2 L537.4,278.3 L536.1,278.4 L534.9,278.6 L533.6,278.7 L532.4,278.8 L531.2,278.9 L529.9,279.0 L528.7,279.1 L527.4,279.1 L526.2,279.2 L524.9,279.2 L523.7,279.3 L522.4,279.3 L521.2,279.3 L519.9,279.4 L518.7,279.5 L517.4,279.5 L516.2,279.6 L514.9,279.7 L513.7,279.8 L512.4,279.9 L511.2,280.1 L509.9,280.2 L508.7,280.3 L507.4,280.4 L506.2,280.5 L504.9,280.7 L503.7,280.8 L502.4,280.9 L501.2,281.0 L500.0,281.1 L498.7,281.2 L497.5,281.3 L496.2,281.3 L495.0,281.4 L493.7,281.5 L492.5,281.6 L491.2,281.7 L490.0,281.8 L488.7,281.9 L487.5,282.1 L486.2,282.2 L485.0,282.3 L483.7,282.4 L482.5,282.5 L481.3,282.6 L480.0,282.8 L478.8,282.9 L477.5,283.1 L476.3,283.2 L475.0,283.4 L473.8,283.6 L472.6,283.8 L471.3,284.0 L470.1,284.2 L468.9,284.4 L467.6,284.6 L466.4,284.8 L465.2,285.0 L463.9,285.3 L462.7,285.5 L461.5,285.7 L460.2,286.0 L459.0,286.2 L457.8,286.5 L456.6,286.7 L455.3,287.0 L454.1,287.2 L452.9,287.5 L451.7,287.8 L450.5,288.1 L449.2,288.4 L448.0,288.7 L446.8,288.9 L445.6,289.2 L444.4,289.5 L443.2,289.8 L441.9,290.1 L440.7,290.4 L439.5,290.6 L438.3,290.8 L437.0,291.1 L435.8,291.3 L434.6,291.5 L433.3,291.7 L432.1,291.9 L430.9,292.2 L429.7,292.4 L428.4,292.7 L427.2,293.0 L426.0,293.4 L424.8,293.7 L423.6,294.1 L422.4,294.5 L421.3,294.9 L420.1,295.3 L418.9,295.7 L417.7,296.2 L416.6,296.6 L415.4,297.1 L414.2,297.6 L413.1,298.0 L411.9,298.5 L410.8,299.0 L409.6,299.5 L408.5,300.0 L407.4,300.6 L406.2,301.1 L405.1,301.6 L404.0,302.2 L402.9,302.7 L401.7,303.3 L400.6,303.9 L399.5,304.4 L398.4,305.0 L397.3,305.6 L396.2,306.2 L395.1,306.8 L394.0,307.4 L392.9,308.0 L391.8,308.7 L390.7,309.3 L389.7,309.9 L388.6,310.5 L387.5,311.2 L386.4,311.8 L385.4,312.5 L384.3,313.1 L383.2,313.8 L382.2,314.5 L381.1,315.1 L380.1,315.8 L379.0,316.5 L377.9,317.1 L376.9,317.8 L375.8,318.5 L374.8,319.2 L373.7,319.8 L372.7,320.5 L371.6,321.2 L370.6,321.9 L369.6,322.6 L368.5,323.3 L367.5,324.0 L366.4,324.6 L365.3,325.3 L364.3,325.9 L363.2,326.6 L362.1,327.2 L361.0,327.8 L359.9,328.4 L358.8,329.0 L357.7,329.6 L356.6,330.1 L355.5,330.7 L354.3,331.2 L353.2,331.7 L352.1,332.2 L350.9,332.8 L349.8,333.2 L348.6,333.7 L347.4,334.2 L346.3,334.6 L345.1,335.1 L343.9,335.5 L342.8,336.0 L341.6,336.4 L340.4,336.9 L339.3,337.3 L338.1,337.8 L336.9,338.2 L335.8,338.7 L334.6,339.1 L333.4,339.5 L332.2,340.0 L331.0,340.4 L329.9,340.7 L328.7,341.1 L327.5,341.5 L326.3,341.9 L325.1,342.2 L323.9,342.6 L322.7,342.9 L321.5,343.3 L320.3,343.6 L319.1,344.0 L317.9,344.3 L316.7,344.7 L315.5,345.1 L314.3,345.4 L313.1,345.8 L311.9,346.1 L310.7,346.5 L309.5,346.8 L308.3,347.2 L307.1,347.5 L305.9,347.8 L304.7,348.2 L303.4,348.5 L302.2,348.9 L301.0,349.2 L299.8,349.6 L298.6,349.9 L297.5,350.3 L296.3,350.7 L295.1,351.1 L293.9,351.5 L292.7,351.8 L291.5,352.2 L290.3,352.6 L289.1,352.9 L287.9,353.3 L286.7,353.6 L285.5,353.9 L284.3,354.2 L283.0,354.5 L281.8,354.7 L280.6,354.9 L279.3,355.1 L278.1,355.3 L276.9,355.5 L275.6,355.7 L274.4,355.9 L273.2,356.1 L271.9,356.2 L270.7,356.4 L269.4,356.6 L268.2,356.7 L267.0,356.9 L265.7,357.0 L264.5,357.2 L263.2,357.3 L262.0,357.4 L260.7,357.5 L259.5,357.7 L258.3,357.8 L257.0,358.0 L255.8,358.2 L254.5,358.4 L253.3,358.7 L252.1,358.9 L250.9,359.2 L249.7,359.5 L248.5,359.8 L247.3,360.2 L246.1,360.5 L244.9,360.9 L243.6,361.2 L242.4,361.6 L241.2,361.9 L240.0,362.3 L238.8,362.6 L237.6,363.0 L236.5,363.4 L235.3,363.7 L234.1,364.2 L232.9,364.6 L231.7,365.0 L230.6,365.5 L229.4,366.0 L228.3,366.6 L227.2,367.1 L226.1,367.7 L225.0,368.3 L223.9,368.9 L222.9,369.6 L221.8,370.3 L220.8,371.0 L219.8,371.8 L218.8,372.5 L217.8,373.3 L216.8,374.1 L215.9,374.9 L214.9,375.7 L214.0,376.5 L213.1,377.3 L212.2,378.2 L211.3,379.1 L210.4,380.0 L209.6,381.0 L208.8,381.9 L208.1,382.9 L207.3,383.9 L206.5,384.9 L205.8,385.9 L205.0,386.9 L204.3,387.9 L203.5,388.9 L202.8,389.9 L202.1,390.9 L201.3,391.9 L200.6,393.0 L199.9,394.0 L199.2,395.0 L198.5,396.1 L197.8,397.1 L197.1,398.2 L196.4,399.2 L195.8,400.3 L195.1,401.3 L194.5,402.4 L193.8,403.5 L193.1,404.5 L192.5,405.6 L191.8,406.7 L191.2,407.7 L190.5,408.8 L189.9,409.9 L189.2,410.9 L188.5,412.0 L187.9,413.0 L187.2,414.1 L186.6,415.2 L185.9,416.2 L185.3,417.3 L184.6,418.4 L184.0,419.5 L183.3,420.5 L182.7,421.6 L182.1,422.7 L181.5,423.8 L180.9,424.9 L180.3,426.0 L179.8,427.1 L179.2,428.3 L178.7,429.4 L178.1,430.5 L177.6,431.6 L177.0,432.8 L176.5,433.9 L176.0,435.0 L175.4,436.2 L174.9,437.3 L174.4,438.4 L173.9,439.6 L173.3,440.7 L172.8,441.8 L172.3,443.0 L171.8,444.1 L171.3,445.3 L170.8,446.4 L170.3,447.6 L169.8,448.7 L169.3,449.9 L168.8,451.0 L168.4,452.2 L167.9,453.4 L167.5,454.5 L167.0,455.7 L166.5,456.8 L166.1,458.0 L165.6,459.2 L165.2,460.3 L164.7,461.5 L164.3,462.7 L163.8,463.9 L163.4,465.0 L163.0,466.2 L162.6,467.4 L162.1,468.6 L161.7,469.7 L161.3,470.9 L160.9,472.1 L160.5,473.3 L160.1,474.5 L159.7,475.7 L159.3,476.9 L158.9,478.0 L158.6,479.2 L158.2,480.4 L157.9,481.6 L157.5,482.8 L157.2,484.1 L156.9,485.3 L156.6,486.5 L156.3,487.7 L156.0,488.9 L155.7,490.1 L155.4,491.3 L155.1,492.6 L154.8,493.8 L154.5,495.0 L154.2,496.2" fill="none" stroke="#f00" stroke-width="2.2" stroke-linejoin="round" stroke-linecap="round"/>
<path d="M154.0,364.5 L154.1,363.3 L154.1,362.0 L154.2,360.8 L154.3,359.5 L154.4,358.3 L154.4,357.0 L154.5,355.8 L154.6,354.5 L154.6,353.3 L154.7,352.0 L154.8,350.8 L154.9,349.5 L155.0,348.3 L155.1,347.0 L155.2,345.8 L155.3,344.5 L155.5,343.3 L155.7,342.0 L155.8,340.8 L156.1,339.6 L156.3,338.3 L156.5,337.1 L156.8,335.9 L157.0,334.7 L157.3,333.4 L157.6,332.2 L157.8,331.0 L158.1,329.8 L158.3,328.5 L158.5,327.3 L158.8,326.1 L159.0,324.9 L159.2,323.6 L159.5,322.4 L159.7,321.2 L160.0,320.0 L160.3,318.7 L160.6,317.5 L161.0,316.3 L161.4,315.1 L161.8,313.9 L162.2,312.8 L162.6,311.6 L163.0,310.4 L163.5,309.3 L164.0,308.1 L164.5,307.0 L165.0,305.8 L165.5,304.7 L166.1,303.6 L166.7,302.5 L167.2,301.4 L167.9,300.3 L168.5,299.2 L169.1,298.1 L169.8,297.1 L170.5,296.0 L171.1,294.9 L171.8,293.9 L172.5,292.8 L173.1,291.7 L173.8,290.7 L174.4,289.6 L175.0,288.5 L175.6,287.4 L176.2,286.3 L176.8,285.2 L177.4,284.1 L178.0,283.0 L178.6,281.9 L179.2,280.8 L179.9,279.8 L180.6,278.8 L181.4,277.8 L182.3,276.9 L183.2,276.1 L184.1,275.3 L185.1,274.5 L186.1,273.7 L187.1,273.0 L188.2,272.3 L189.2,271.7 L190.3,271.1 L191.5,270.6 L192.6,270.0 L193.7,269.5 L194.9,269.0 L196.0,268.6 L197.2,268.1 L198.4,267.6 L199.5,267.2 L200.7,266.7 L201.9,266.3 L203.0,265.9 L204.2,265.5 L205.4,265.1 L206.6,264.7 L207.8,264.3 L209.0,264.0 L210.2,263.6 L211.4,263.3 L212.6,263.0 L213.8,262.7 L215.1,262.4 L216.3,262.1 L217.5,261.8 L218.7,261.5 L219.9,261.2 L221.1,260.9 L222.4,260.6 L223.6,260.4 L224.8,260.1 L226.0,259.8 L227.3,259.6 L228.5,259.3 L229.7,259.1 L230.9,258.8 L232.2,258.6 L233.4,258.4 L234.6,258.1 L235.9,257.9 L237.1,257.7 L238.3,257.5 L239.5,257.2 L240.8,257.0 L242.0,256.8 L243.3,256.6 L244.5,256.4 L245.7,256.2 L247.0,256.0 L248.2,255.8 L249.4,255.6 L250.7,255.4 L251.9,255.1 L253.1,254.9 L254.3,254.7 L255.6,254.5 L256.8,254.2 L258.0,254.0 L259.3,253.8 L260.5,253.5 L261.7,253.3 L263.0,253.1 L264.2,252.8 L265.4,252.6 L266.6,252.4 L267.9,252.2 L269.1,251.9 L270.3,251.7 L271.6,251.5 L272.8,251.3 L274.0,251.1 L275.3,250.9 L276.5,250.7 L277.7,250.5 L279.0,250.3 L280.2,250.1 L281.5,249.9 L282.7,249.7 L283.9,249.6 L285.2,249.4 L286.4,249.2 L287.7,249.1 L288.9,248.9 L290.1,248.8 L291.4,248.7 L292.6,248.5 L293.9,248.4 L295.1,248.3 L296.4,248.2 L297.6,248.0 L298.9,247.9 L300.1,247.8 L301.4,247.7 L302.6,247.6 L303.8,247.5 L305.1,247.4 L306.3,247.3 L307.6,247.2 L308.8,247.1 L310.1,247.0 L311.3,246.8 L312.6,246.7 L313.8,246.6 L315.1,246.5 L316.3,246.4 L317.6,246.3 L318.8,246.2 L320.1,246.1 L321.3,246.0 L322.6,245.9 L323.8,245.8 L325.1,245.7 L326.3,245.7 L327.5,245.6 L328.8,245.5 L330.0,245.4 L331.3,245.3 L332.5,245.2 L333.8,245.1 L335.0,245.0 L336.3,244.9 L337.5,244.8 L338.8,244.7 L340.0,244.6 L341.3,244.5 L342.5,244.4 L343.8,244.3 L345.0,244.2 L346.3,244.0 L347.5,243.9 L348.7,243.8 L350.0,243.7 L351.2,243.6 L352.5,243.5 L353.7,243.3 L355.0,243.2 L356.2,243.1 L357.5,243.0 L358.7,242.9 L360.0,242.7 L361.2,242.6 L362.5,242.5 L363.7,242.4 L364.9,242.2 L366.2,242.1 L367.4,242.0 L368.7,241.8 L369.9,241.7 L371.2,241.6 L372.4,241.4 L373.7,241.3 L374.9,241.2 L376.1,241.0 L377.4,240.9 L378.6,240.7 L379.9,240.6 L381.1,240.4 L382.4,240.3 L383.6,240.1 L384.8,240.0 L386.1,239.8 L387.3,239.7 L388.6,239.5 L389.8,239.4 L391.0,239.2 L392.3,239.1 L393.5,238.9 L394.8,238.8 L396.0,238.7 L397.3,238.5 L398.5,238.4 L399.8,238.2 L401.0,238.1 L402.2,238.0 L403.5,237.9 L404.7,237.7 L406.0,237.6 L407.2,237.5 L408.5,237.3 L409.7,237.2 L411.0,237.1 L412.2,237.0 L413.4,236.9 L414.7,236.7 L415.9,236.6 L417.2,236.5 L418.4,236.4 L419.7,236.3 L420.9,236.2 L422.2,236.1 L423.4,236.0 L424.7,235.9 L425.9,235.8 L427.2,235.7 L428.4,235.6 L429.7,235.5 L430.9,235.4 L432.2,235.4 L433.4,235.3 L434.7,235.2 L435.9,235.2 L437.2,235.1 L438.4,235.1 L439.7,235.0 L440.9,235.0 L442.2,235.0 L443.4,235.0 L444.7,234.9 L445.9,234.9 L447.2,234.9 L448.4,234.9 L449.7,234.9 L450.9,234.9 L452.2,234.9 L453.4,234.9 L454.7,234.9 L455.9,234.9 L457.2,234.9 L458.4,234.9 L459.7,234.9 L460.9,234.9 L462.2,234.9 L463.4,235.0 L464.7,235.0 L465.9,235.0 L467.2,235.1 L468.4,235.1 L469.7,235.1 L470.9,235.2 L472.2,235.2 L473.4,235.3 L474.7,235.3 L475.9,235.3 L477.2,235.3 L478.4,235.3 L479.7,235.2 L481.0,235.2 L482.2,235.2 L483.5,235.1 L484.7,235.1 L486.0,235.1 L487.2,235.0 L488.5,235.0 L489.7,234.9 L491.0,234.9 L492.2,234.9 L493.5,234.8 L494.7,234.8 L496.0,234.8 L497.2,234.7 L498.5,234.7 L499.7,234.7 L501.0,234.6 L502.2,234.6 L503.5,234.5 L504.7,234.5 L506.0,234.4 L507.2,234.3 L508.5,234.3 L509.7,234.2 L511.0,234.1 L512.2,234.0 L513.5,233.9 L514.7,233.8 L516.0,233.8 L517.2,233.7 L518.5,233.6 L519.7,233.5 L520.9,233.4 L522.2,233.3 L523.4,233.2 L524.7,233.1 L525.9,233.0 L527.2,232.9 L528.4,232.8 L529.7,232.8 L530.9,232.7 L532.2,232.6 L533.4,232.5 L534.7,232.4 L535.9,232.3 L537.2,232.2 L538.4,232.1 L539.7,232.0 L540.9,231.9 L542.2,231.8 L543.4,231.7 L544.7,231.7 L545.9,231.6 L547.2,231.5 L548.4,231.4 L549.7,231.3 L550.9,231.2 L552.1,231.1 L553.4,231.0 L554.6,230.9 L555.9,230.8 L557.1,230.7 L558.4,230.6 L559.6,230.5 L560.9,230.4 L562.1,230.3 L563.4,230.2 L564.6,230.1 L565.9,230.0 L567.1,229.9 L568.4,229.8 L569.6,229.7 L570.9,229.6 L572.1,229.5 L573.4,229.4 L574.6,229.3 L575.9,229.2 L577.1,229.1 L578.4,229.0 L579.6,228.9 L580.8,228.8 L582.1,228.7 L583.3,228.6 L584.6,228.4 L585.8,228.3 L587.1,228.2 L588.3,228.0 L589.5,227.8 L590.8,227.7 L592.0,227.5 L593.3,227.3 L594.5,227.2 L595.7,227.0 L597.0,226.8 L598.2,226.5 L599.4,226.3 L600.7,226.0 L601.9,225.7 L603.1,225.5 L604.3,225.1 L605.5,224.8 L606.7,224.5 L607.9,224.2 L609.2,223.9 L610.4,223.6 L611.6,223.3 L612.8,222.9 L614.0,222.6 L615.2,222.3 L616.4,222.0 L617.6,221.7 L618.9,221.4 L620.1,221.2 L621.3,220.9 L622.5,220.5 L623.7,220.2 L624.9,219.9 L626.1,219.6 L627.3,219.3 L628.5,218.9 L629.8,218.6 L631.0,218.2 L632.2,217.9 L633.4,217.5 L634.6,217.2 L635.7,216.8 L636.9,216.4 L638.1,216.0 L639.3,215.6 L640.5,215.2 L641.7,214.8 L642.8,214.3 L644.0,213.9 L645.2,213.4 L646.3,213.0 L647.5,212.5 L648.6,212.0 L649.8,211.5 L650.9,211.0 L652.1,210.5 L653.2,210.0 L654.4,209.4 L655.5,208.9 L656.6,208.3 L657.7,207.8 L658.8,207.2 L660.0,206.6 L661.1,206.1 L662.2,205.5 L663.3,204.9 L664.4,204.3 L665.5,203.7 L666.6,203.1 L667.6,202.4 L668.7,201.8 L669.7,201.1 L670.8,200.4 L671.8,199.7 L672.8,198.9 L673.8,198.2 L674.8,197.4 L675.8,196.6 L676.8,195.9 L677.7,195.1 L678.7,194.3 L679.7,193.5 L680.7,192.7 L681.6,192.0 L682.6,191.2 L683.6,190.4 L684.6,189.6 L685.5,188.8 L686.5,188.0 L687.5,187.3 L688.5,186.5 L689.4,185.7 L690.4,184.9 L691.4,184.1 L692.3,183.3 L693.3,182.5 L694.3,181.7 L695.2,180.9 L696.2,180.1 L697.1,179.3 L698.1,178.4 L699.0,177.6 L700.0,176.8 L700.9,176.0 L701.9,175.2 L702.8,174.4 L703.8,173.6 L704.8,172.8 L705.7,172.0 L706.7,171.2 L707.6,170.4 L708.6,169.6 L709.5,168.7 L710.5,167.9 L711.4,167.1 L712.4,166.3 L713.3,165.5 L714.3,164.6 L715.2,163.8 L716.1,163.0 L717.1,162.1 L718.0,161.3 L718.9,160.5 L719.8,159.6 L720.7,158.8 L721.7,157.9 L722.6,157.0 L723.5,156.2 L724.4,155.3 L725.3,154.4 L726.2,153.6 L727.1,152.7 L728.0,151.8 L728.8,150.9 L729.7,150.0 L730.6,149.2 L731.5,148.3 L732.4,147.4" fill="none" stroke="#0f0" stroke-width="2.2" stroke-linejoin="round" stroke-linecap="round"/>
<path d="M734.9,218.7 L734.5,219.9 L734.2,221.1 L733.8,222.3 L733.4,223.5 L733.1,224.7 L732.7,225.9 L732.3,227.1 L731.9,228.2 L731.4,229.4 L730.8,230.5 L730.2,231.6 L729.5,232.6 L728.8,233.7 L728.1,234.7 L727.3,235.6 L726.5,236.6 L725.6,237.5 L724.8,238.4 L723.8,239.2 L722.9,240.0 L721.9,240.8 L721.0,241.6 L720.0,242.4 L719.0,243.2 L718.0,244.0 L717.1,244.8 L716.1,245.6 L715.1,246.3 L714.1,247.1 L713.1,247.9 L712.1,248.6 L711.1,249.3 L710.1,250.1 L709.0,250.7 L708.0,251.4 L706.9,252.1 L705.8,252.7 L704.7,253.3 L703.6,253.8 L702.5,254.4 L701.3,254.9 L700.2,255.4 L699.0,255.8 L697.9,256.3 L696.7,256.8 L695.5,257.2 L694.4,257.7 L693.2,258.1 L692.0,258.5 L690.8,259.0 L689.7,259.4 L688.5,259.8 L687.3,260.2 L686.1,260.5 L684.9,260.9 L683.7,261.3 L682.5,261.6 L681.3,262.0 L680.1,262.4 L678.9,262.7 L677.7,263.1 L676.5,263.4 L675.3,263.7 L674.1,264.0 L672.9,264.4 L671.6,264.7 L670.4,265.0 L669.2,265.3 L668.0,265.6 L666.8,265.9 L665.6,266.2 L664.4,266.5 L663.1,266.7 L661.9,267.0 L660.7,267.3 L659.5,267.5 L658.2,267.8 L657.0,268.0 L655.8,268.3 L654.6,268.5 L653.3,268.8 L652.1,269.0 L650.9,269.2 L649.6,269.4 L648.4,269.6 L647.2,269.8 L645.9,270.0 L644.7,270.2 L643.4,270.4 L642.2,270.6 L641.0,270.8 L639.7,271.0 L638.5,271.2 L637.3,271.4 L636.0,271.6 L634.8,271.7 L633.5,271.9 L632.3,272.0 L631.1,272.2 L629.8,272.3 L628.6,272.4 L627.3,272.5 L626.1,272.6 L624.8,272.7 L623.6,272.8 L622.3,272.9 L621.1,273.0 L619.8,273.0 L618.6,273.1 L617.3,273.2 L616.1,273.2 L614.8,273.3 L613.6,273.4 L612.3,273.4 L611.1,273.5 L609.8,273.6 L608.6,273.6 L607.3,273.7 L606.1,273.8 L604.8,273.8 L603.6,273.9 L602.3,274.0 L601.1,274.0 L599.8,274.1 L598.6,274.2 L597.3,274.2 L596.1,274.3 L594.8,274.4 L593.6,274.4 L592.3,274.5 L591.1,274.5 L589.8,274.6 L588.6,274.6 L587.3,274.7 L586.1,274.7 L584.8,274.8 L583.6,274.8 L582.3,274.8 L581.1,274.9 L579.8,274.9 L578.6,274.9 L577.3,275.0 L576.1,275.0 L574.8,275.0 L573.6,275.1 L572.3,275.1 L571.0,275.1 L569.8,275.1 L568.5,275.2 L567.3,275.2 L566.0,275.2 L564.8,275.2 L563.5,275.3 L562.3,275.3 L561.0,275.3 L559.8,275.3 L558.5,275.3 L557.3,275.4 L556.0,275.4 L554.8,275.4 L553.5,275.4 L552.3,275.4 L551.0,275.5 L549.8,275.5 L548.5,275.5 L547.3,275.5 L546.0,275.5 L544.8,275.6 L543.5,275.6 L542.3,275.6 L541.0,275.6 L539.8,275.6 L538.5,275.7 L537.3,275.7 L536.0,275.7 L534.7,275.7 L533.5,275.7 L532.2,275.8 L531.0,275.8 L529.7,275.8 L528.5,275.8 L527.2,275.9 L526.0,275.9 L524.7,275.9 L523.5,275.9 L522.2,276.0 L521.0,276.0 L519.7,276.0 L518.5,276.0 L517.2,276.1 L516.0,276.1 L514.7,276.1 L513.5,276.1 L512.2,276.2 L511.0,276.2 L509.7,276.2 L508.5,276.2 L507.2,276.3 L506.0,276.3 L504.7,276.3 L503.5,276.3 L502.2,276.4 L501.0,276.4 L499.7,276.4 L498.5,276.4 L497.2,276.5 L495.9,276.5 L494.7,276.5 L493.4,276.6 L492.2,276.6 L490.9,276.6 L489.7,276.6 L488.4,276.7 L487.2,276.7 L485.9,276.7 L484.7,276.7 L483.4,276.8 L482.2,276.8 L480.9,276.8 L479.7,276.9 L478.4,276.9 L477.2,276.9 L475.9,277.0 L474.7,277.0 L473.4,277.0 L472.2,277.1 L470.9,277.1 L469.7,277.1 L468.4,277.2 L467.2,277.2 L465.9,277.2 L464.7,277.3 L463.4,277.3 L462.2,277.3 L460.9,277.4 L459.7,277.4 L458.4,277.5 L457.2,277.5 L455.9,277.6 L454.7,277.6 L453.4,277.7 L452.2,277.7 L450.9,277.8 L449.6,277.8 L448.4,277.9 L447.1,278.0 L445.9,278.1 L444.7,278.1 L443.4,278.2 L442.2,278.3 L440.9,278.4 L439.7,278.5 L438.4,278.5 L437.2,278.6 L435.9,278.7 L434.7,278.8 L433.4,278.9 L432.2,278.9 L430.9,279.0 L429.7,279.1 L428.4,279.1 L427.2,279.2 L425.9,279.2 L424.7,279.3 L423.4,279.4 L422.2,279.5 L420.9,279.5 L419.7,279.6 L418.4,279.7 L417.2,279.9 L415.9,280.0 L414.7,280.1 L413.4,280.3 L412.2,280.5 L411.0,280.6 L409.7,280.8 L408.5,281.0 L407.2,281.2 L406.0,281.4 L404.8,281.6 L403.5,281.8 L402.3,282.0 L401.1,282.2 L399.8,282.4 L398.6,282.6 L397.4,282.8 L396.1,283.0 L394.9,283.2 L393.7,283.4 L392.4,283.6 L391.2,283.9 L390.0,284.1 L388.7,284.4 L387.5,284.6 L386.3,284.9 L385.1,285.1 L383.8,285.4 L382.6,285.7 L381.4,286.0 L380.2,286.3 L379.0,286.6 L377.8,286.9 L376.6,287.3 L375.4,287.6 L374.1,287.9 L372.9,288.2 L371.7,288.5 L370.5,288.8 L369.3,289.1 L368.1,289.4 L366.9,289.7 L365.6,290.0 L364.4,290.3 L363.2,290.6 L362.0,290.9 L360.8,291.2 L359.6,291.5 L358.4,291.9 L357.1,292.2 L355.9,292.5 L354.7,292.8 L353.5,293.2 L352.3,293.5 L351.1,293.8 L349.9,294.2 L348.7,294.5 L347.5,294.9 L346.3,295.2 L345.1,295.6 L343.9,296.0 L342.7,296.3 L341.5,296.7 L340.3,297.0 L339.1,297.4 L337.9,297.7 L336.7,298.1 L335.5,298.4 L334.3,298.8 L333.1,299.1 L331.9,299.5 L330.7,299.8 L329.5,300.1 L328.3,300.4 L327.1,300.8 L325.8,301.1 L324.6,301.4 L323.4,301.6 L322.2,301.9 L321.0,302.2 L319.7,302.5 L318.5,302.8 L317.3,303.0 L316.1,303.3 L314.9,303.6 L313.6,303.9 L312.4,304.1 L311.2,304.4 L310.0,304.6 L308.7,304.9 L307.5,305.2 L306.3,305.4 L305.1,305.7 L303.8,305.9 L302.6,306.2 L301.4,306.4 L300.1,306.6 L298.9,306.8 L297.7,307.0 L296.4,307.3 L295.2,307.4 L294.0,307.6 L292.7,307.8 L291.5,308.0 L290.3,308.2 L289.0,308.3 L287.8,308.5 L286.5,308.7 L285.3,308.8 L284.0,309.0 L282.8,309.2 L281.6,309.4 L280.3,309.6 L279.1,309.8 L277.9,310.0 L276.6,310.3 L275.4,310.5 L274.2,310.7 L273.0,310.9 L271.7,311.2 L270.5,311.4 L269.3,311.6 L268.0,311.8 L266.8,311.9 L265.5,312.1 L264.3,312.2 L263.0,312.3 L261.8,312.4 L260.5,312.5 L259.3,312.6 L258.0,312.7 L256.8,312.8 L255.6,312.9 L254.3,313.0 L253.1,313.1 L251.8,313.2 L250.6,313.3 L249.3,313.4 L248.1,313.5 L246.8,313.7 L245.6,313.8 L244.3,314.0 L243.1,314.1 L241.9,314.3 L240.6,314.5 L239.4,314.6 L238.1,314.8 L236.9,315.0 L235.7,315.2 L234.4,315.3 L233.2,315.5 L231.9,315.7 L230.7,315.9 L229.5,316.1 L228.3,316.4 L227.0,316.6 L225.8,316.9 L224.6,317.2 L223.4,317.5 L222.2,317.9 L221.0,318.2 L219.8,318.5 L218.6,318.9 L217.4,319.2 L216.1,319.6 L214.9,319.9 L213.7,320.2 L212.5,320.5 L211.3,320.9 L210.1,321.2 L208.9,321.5 L207.7,321.8 L206.5,322.1 L205.3,322.5 L204.1,322.9 L202.9,323.2 L201.7,323.6 L200.5,324.1 L199.3,324.5 L198.2,324.9 L197.0,325.4 L195.9,325.9 L194.7,326.4 L193.6,326.9 L192.4,327.4 L191.3,328.0 L190.2,328.6 L189.2,329.3 L188.1,329.9 L187.1,330.6 L186.0,331.3 L185.0,332.1 L184.0,332.8 L183.0,333.6 L182.1,334.4 L181.1,335.2 L180.1,336.0 L179.2,336.8 L178.2,337.6 L177.3,338.4 L176.3,339.2 L175.4,340.1 L174.5,340.9 L173.6,341.8 L172.7,342.6 L171.8,343.5 L170.9,344.4 L170.0,345.3 L169.1,346.2 L168.3,347.1 L167.4,348.0 L166.6,348.9 L165.7,349.8 L164.9,350.8 L164.1,351.7 L163.3,352.7 L162.5,353.6 L161.7,354.6 L160.9,355.6 L160.1,356.6 L159.4,357.6 L158.6,358.6 L157.8,359.6 L157.1,360.5 L156.3,361.5 L155.5,362.5 L154.8,363.5 L154.0,364.5" fill="none" stroke="#0f0" stroke-width="2.2" stroke-linejoin="round" stroke-linecap="round"/>
<path d="M154.4,347.7 L154.6,346.5 L154.8,345.2 L155.0,344.0 L155.2,342.8 L155.3,341.5 L155.5,340.3 L155.7,339.0 L155.9,337.8 L156.1,336.6 L156.3,335.3 L156.5,334.1 L156.7,332.9 L156.9,331.6 L157.1,330.4 L157.3,329.2 L157.5,327.9 L157.6,326.7 L157.8,325.4 L158.0,324.2 L158.2,323.0 L158.4,321.7 L158.6,320.5 L158.9,319.3 L159.1,318.1 L159.4,316.8 L159.7,315.6 L160.1,314.4 L160.4,313.2 L160.8,312.0 L161.2,310.8 L161.6,309.6 L162.0,308.5 L162.4,307.3 L162.9,306.1 L163.4,305.0 L163.9,303.9 L164.5,302.8 L165.1,301.7 L165.7,300.6 L166.3,299.5 L167.0,298.4 L167.7,297.4 L168.4,296.3 L169.1,295.3 L169.8,294.3 L170.5,293.2 L171.2,292.2 L171.9,291.2 L172.7,290.2 L173.4,289.2 L174.2,288.2 L175.0,287.3 L175.8,286.3 L176.6,285.4 L177.5,284.4 L178.3,283.5 L179.2,282.6 L180.1,281.7 L180.9,280.8 L181.8,280.0 L182.8,279.1 L183.7,278.3 L184.7,277.6 L185.7,276.8 L186.8,276.2 L187.9,275.6 L189.0,275.0 L190.1,274.5 L191.3,274.0 L192.4,273.5 L193.6,273.0 L194.7,272.6 L195.9,272.1 L197.1,271.7 L198.3,271.3 L199.5,270.9 L200.6,270.5 L201.8,270.1 L203.0,269.8 L204.2,269.4 L205.4,269.1 L206.6,268.7 L207.8,268.4 L209.1,268.1 L210.3,267.8 L211.5,267.4 L212.7,267.1 L213.9,266.8 L215.1,266.6 L216.3,266.3 L217.6,266.1 L218.8,265.8 L220.0,265.6 L221.3,265.4 L222.5,265.2 L223.7,265.0 L225.0,264.8 L226.2,264.7 L227.5,264.5 L228.7,264.3 L229.9,264.2 L231.2,264.0 L232.4,263.8 L233.7,263.7 L234.9,263.5 L236.1,263.3 L237.4,263.1 L238.6,262.9 L239.8,262.7 L241.1,262.5 L242.3,262.4 L243.6,262.2 L244.8,262.0 L246.0,261.8 L247.3,261.6 L248.5,261.5 L249.8,261.3 L251.0,261.2 L252.2,261.0 L253.5,260.9 L254.7,260.8 L256.0,260.6 L257.2,260.5 L258.5,260.3 L259.7,260.2 L260.9,260.1 L262.2,259.9 L263.4,259.8 L264.7,259.6 L265.9,259.5 L267.2,259.3 L268.4,259.2 L269.6,259.1 L270.9,258.9 L272.1,258.8 L273.4,258.7 L274.6,258.5 L275.9,258.4 L277.1,258.2 L278.4,258.1 L279.6,258.0 L280.8,257.8 L282.1,257.7 L283.3,257.6 L284.6,257.4 L285.8,257.3 L287.1,257.1 L288.3,257.0 L289.5,256.9 L290.8,256.7 L292.0,256.6 L293.3,256.5 L294.5,256.3 L295.8,256.2 L297.0,256.1 L298.3,255.9 L299.5,255.8 L300.7,255.7 L302.0,255.5 L303.2,255.4 L304.5,255.3 L305.7,255.1 L307.0,255.0 L308.2,254.9 L309.5,254.8 L310.7,254.6 L311.9,254.5 L313.2,254.4 L314.4,254.3 L315.7,254.1 L316.9,254.0 L318.2,253.9 L319.4,253.8 L320.7,253.7 L321.9,253.6 L323.2,253.5 L324.4,253.4 L325.6,253.3 L326.9,253.1 L328.1,253.0 L329.4,252.9 L330.6,252.8 L331.9,252.7 L333.1,252.6 L334.4,252.5 L335.6,252.3 L336.9,252.2 L338.1,252.1 L339.3,252.0 L340.6,251.8 L341.8,251.7 L343.1,251.6 L344.3,251.4 L345.6,251.3 L346.8,251.1 L348.1,251.0 L349.3,250.8 L350.5,250.7 L351.8,250.6 L353.0,250.4 L354.3,250.3 L355.5,250.1 L356.7,250.0 L358.0,249.8 L359.2,249.6 L360.5,249.5 L361.7,249.3 L363.0,249.2 L364.2,249.0 L365.4,248.8 L366.7,248.7 L367.9,248.5 L369.2,248.3 L370.4,248.2 L371.6,248.0 L372.9,247.8 L374.1,247.6 L375.4,247.5 L376.6,247.3 L377.8,247.1 L379.1,246.9 L380.3,246.7 L381.5,246.5 L382.8,246.3 L384.0,246.1 L385.2,245.9 L386.5,245.7 L387.7,245.5 L388.9,245.3 L390.2,245.1 L391.4,244.9 L392.7,244.8 L393.9,244.6 L395.1,244.4 L396.4,244.2 L397.6,244.0 L398.8,243.8 L400.1,243.7 L401.3,243.5 L402.6,243.3 L403.8,243.2 L405.0,243.0 L406.3,242.8 L407.5,242.7 L408.8,242.5 L410.0,242.4 L411.3,242.2 L412.5,242.1 L413.7,241.9 L415.0,241.8 L416.2,241.6 L417.5,241.5 L418.7,241.3 L420.0,241.2 L421.2,241.1 L422.4,240.9 L423.7,240.8 L424.9,240.7 L426.2,240.6 L427.4,240.5 L428.7,240.3 L429.9,240.2 L431.2,240.1 L432.4,240.1 L433.7,240.0 L434.9,239.9 L436.2,239.8 L437.4,239.8 L438.7,239.7 L439.9,239.7 L441.2,239.7 L442.4,239.6 L443.7,239.6 L444.9,239.6 L446.2,239.6 L447.4,239.6 L448.7,239.6 L449.9,239.6 L451.2,239.6 L452.4,239.6 L453.7,239.5 L454.9,239.5 L456.2,239.5 L457.4,239.5 L458.7,239.5 L459.9,239.5 L461.2,239.5 L462.4,239.5 L463.7,239.4 L464.9,239.4 L466.2,239.4 L467.4,239.4 L468.7,239.3 L469.9,239.3 L471.2,239.3 L472.4,239.2 L473.7,239.2 L474.9,239.1 L476.2,239.1 L477.4,239.0 L478.7,238.9 L479.9,238.8 L481.2,238.8 L482.4,238.7 L483.7,238.6 L484.9,238.5 L486.2,238.4 L487.4,238.3 L488.7,238.2 L489.9,238.1 L491.2,238.0 L492.4,237.9 L493.6,237.8 L494.9,237.6 L496.1,237.5 L497.4,237.4 L498.6,237.3 L499.9,237.1 L501.1,237.0 L502.4,236.9 L503.6,236.7 L504.8,236.6 L506.1,236.4 L507.3,236.3 L508.6,236.2 L509.8,236.0 L511.1,235.9 L512.3,235.7 L513.5,235.6 L514.8,235.4 L516.0,235.3 L517.3,235.1 L518.5,234.9 L519.7,234.7 L521.0,234.5 L522.2,234.3 L523.4,234.1 L524.7,233.9 L525.9,233.6 L527.1,233.4 L528.3,233.1 L529.6,232.8 L530.8,232.5 L532.0,232.3 L533.2,232.0 L534.4,231.7 L535.7,231.4 L536.9,231.1 L538.1,230.9 L539.3,230.6 L540.5,230.3 L541.8,230.1 L543.0,229.8 L544.2,229.5 L545.4,229.3 L546.7,229.0 L547.9,228.7 L549.1,228.5 L550.3,228.2 L551.5,227.9 L552.8,227.6 L554.0,227.4 L555.2,227.1 L556.4,226.8 L557.6,226.5 L558.9,226.2 L560.1,226.0 L561.3,225.7 L562.5,225.4 L563.7,225.1 L565.0,224.8 L566.2,224.5 L567.4,224.3 L568.6,224.0 L569.8,223.7 L571.1,223.4 L572.3,223.2 L573.5,222.9 L574.7,222.6 L575.9,222.4 L577.2,222.1 L578.4,221.8 L579.6,221.5 L580.8,221.1 L582.0,220.8 L583.2,220.4 L584.4,220.0 L585.5,219.6 L586.7,219.2 L587.9,218.7 L589.1,218.3 L590.3,217.9 L591.5,217.5 L592.6,217.1 L593.8,216.7 L595.0,216.3 L596.2,215.9 L597.4,215.5 L598.5,215.0 L599.7,214.6 L600.9,214.2 L602.0,213.7 L603.2,213.3 L604.4,212.8 L605.5,212.3 L606.7,211.9 L607.9,211.4 L609.0,210.9 L610.2,210.5 L611.4,210.0 L612.5,209.6 L613.7,209.1 L614.8,208.6 L616.0,208.1 L617.2,207.7 L618.3,207.2 L619.5,206.7 L620.6,206.2 L621.8,205.8 L622.9,205.3 L624.1,204.9 L625.3,204.4 L626.5,204.0 L627.6,203.5 L628.8,203.1 L630.0,202.6 L631.1,202.2 L632.3,201.8 L633.5,201.4 L634.7,201.0 L635.9,200.6 L637.1,200.2 L638.3,199.9 L639.5,199.6 L640.7,199.3 L641.9,199.0 L643.1,198.7 L644.4,198.4 L645.6,198.2 L646.8,198.0 L648.0,197.7 L649.3,197.5 L650.5,197.3 L651.7,197.1 L653.0,197.0 L654.2,196.8 L655.5,196.7 L656.7,196.6 L658.0,196.5 L659.2,196.4 L660.5,196.3 L661.7,196.2 L662.9,196.0 L664.2,195.9 L665.4,195.8 L666.7,195.7 L667.9,195.6 L669.2,195.4 L670.4,195.3 L671.6,195.1 L672.9,194.9 L674.1,194.7 L675.3,194.4 L676.6,194.2 L677.8,193.9 L679.0,193.6 L680.2,193.3 L681.4,192.9 L682.6,192.5 L683.8,192.1 L684.9,191.7 L686.1,191.2 L687.3,190.7 L688.4,190.3 L689.6,189.7 L690.7,189.2 L691.8,188.7 L692.9,188.1 L694.0,187.5 L695.1,186.9 L696.2,186.3 L697.3,185.7 L698.4,185.1 L699.5,184.5 L700.6,183.8 L701.6,183.2 L702.7,182.5 L703.8,181.9 L704.8,181.2 L705.9,180.5 L706.9,179.8 L708.0,179.2 L709.0,178.5 L710.1,177.8 L711.1,177.1 L712.1,176.4 L713.2,175.7 L714.2,175.0 L715.2,174.3 L716.3,173.6 L717.3,172.8 L718.3,172.1 L719.3,171.4 L720.4,170.7 L721.4,169.9 L722.4,169.2 L723.4,168.5 L724.4,167.7 L725.4,167.0 L726.4,166.2 L727.4,165.5 L728.4,164.7 L729.4,164.0 L730.4,163.2 L731.4,162.5 L732.4,161.7" fill="none" stroke="#00f" stroke-width="2.2" stroke-linejoin="round" stroke-linecap="round"/>
<path d="M734.9,222.6 L734.7,223.8 L734.5,225.1 L734.2,226.3 L734.0,227.5 L733.8,228.8 L733.5,230.0 L733.3,231.2 L733.0,232.4 L732.8,233.7 L732.5,234.9 L732.2,236.1 L731.9,237.3 L731.6,238.5 L731.1,239.7 L730.6,240.8 L730.0,241.9 L729.4,243.0 L728.7,244.0 L728.0,245.0 L727.3,246.0 L726.5,247.1 L725.8,248.0 L725.0,249.0 L724.2,250.0 L723.3,250.9 L722.5,251.8 L721.5,252.6 L720.6,253.4 L719.6,254.1 L718.5,254.8 L717.5,255.5 L716.4,256.1 L715.3,256.7 L714.2,257.3 L713.0,257.8 L711.9,258.4 L710.8,258.9 L709.6,259.3 L708.4,259.8 L707.3,260.2 L706.1,260.6 L704.9,260.9 L703.7,261.2 L702.4,261.5 L701.2,261.8 L700.0,262.0 L698.7,262.2 L697.5,262.4 L696.3,262.6 L695.0,262.7 L693.8,262.9 L692.5,263.0 L691.3,263.1 L690.0,263.2 L688.8,263.2 L687.5,263.3 L686.3,263.3 L685.0,263.4 L683.8,263.4 L682.5,263.4 L681.3,263.4 L680.0,263.3 L678.8,263.3 L677.5,263.3 L676.3,263.2 L675.0,263.1 L673.8,263.1 L672.5,263.0 L671.3,262.9 L670.0,262.9 L668.8,262.8 L667.5,262.8 L666.3,262.7 L665.0,262.6 L663.8,262.6 L662.5,262.6 L661.3,262.5 L660.0,262.5 L658.8,262.5 L657.5,262.4 L656.3,262.4 L655.0,262.4 L653.7,262.4 L652.5,262.4 L651.2,262.5 L650.0,262.5 L648.7,262.5 L647.5,262.6 L646.2,262.6 L645.0,262.7 L643.7,262.8 L642.5,262.9 L641.2,263.0 L640.0,263.1 L638.7,263.2 L637.5,263.3 L636.3,263.5 L635.0,263.6 L633.8,263.8 L632.5,264.0 L631.3,264.1 L630.1,264.3 L628.8,264.5 L627.6,264.7 L626.3,264.9 L625.1,265.1 L623.9,265.3 L622.6,265.5 L621.4,265.7 L620.2,265.9 L618.9,266.1 L617.7,266.3 L616.5,266.5 L615.2,266.7 L614.0,266.9 L612.7,267.1 L611.5,267.2 L610.3,267.4 L609.0,267.6 L607.8,267.7 L606.5,267.9 L605.3,268.0 L604.0,268.2 L602.8,268.4 L601.6,268.5 L600.3,268.7 L599.1,268.8 L597.8,268.9 L596.6,269.1 L595.3,269.2 L594.1,269.3 L592.8,269.5 L591.6,269.6 L590.4,269.7 L589.1,269.8 L587.9,269.9 L586.6,270.0 L585.4,270.1 L584.1,270.2 L582.9,270.3 L581.6,270.4 L580.4,270.5 L579.1,270.5 L577.9,270.6 L576.6,270.7 L575.4,270.8 L574.1,270.8 L572.9,270.9 L571.6,271.0 L570.4,271.0 L569.1,271.1 L567.9,271.1 L566.6,271.2 L565.4,271.2 L564.1,271.3 L562.8,271.4 L561.6,271.4 L560.3,271.5 L559.1,271.5 L557.8,271.6 L556.6,271.6 L555.3,271.7 L554.1,271.7 L552.8,271.8 L551.6,271.8 L550.3,271.9 L549.1,271.9 L547.8,271.9 L546.6,272.0 L545.3,272.0 L544.1,272.1 L542.8,272.1 L541.6,272.2 L540.3,272.2 L539.1,272.3 L537.8,272.3 L536.6,272.4 L535.3,272.4 L534.1,272.5 L532.8,272.5 L531.6,272.6 L530.3,272.6 L529.1,272.6 L527.8,272.7 L526.6,272.7 L525.3,272.8 L524.1,272.8 L522.8,272.9 L521.5,272.9 L520.3,273.0 L519.0,273.0 L517.8,273.1 L516.5,273.1 L515.3,273.2 L514.0,273.2 L512.8,273.3 L511.5,273.3 L510.3,273.4 L509.0,273.4 L507.8,273.5 L506.5,273.5 L505.3,273.6 L504.0,273.6 L502.8,273.7 L501.5,273.7 L500.3,273.7 L499.0,273.8 L497.8,273.8 L496.5,273.9 L495.3,273.9 L494.0,274.0 L492.8,274.0 L491.5,274.1 L490.3,274.1 L489.0,274.2 L487.8,274.2 L486.5,274.2 L485.3,274.3 L484.0,274.3 L482.7,274.4 L481.5,274.4 L480.2,274.5 L479.0,274.5 L477.7,274.6 L476.5,274.6 L475.2,274.7 L474.0,274.7 L472.7,274.8 L471.5,274.8 L470.2,274.9 L469.0,275.0 L467.7,275.0 L466.5,275.1 L465.2,275.1 L464.0,275.2 L462.7,275.3 L461.5,275.3 L460.2,275.4 L459.0,275.5 L457.7,275.5 L456.5,275.6 L455.2,275.7 L454.0,275.8 L452.7,275.9 L451.5,276.0 L450.2,276.1 L449.0,276.2 L447.7,276.3 L446.5,276.4 L445.2,276.5 L444.0,276.6 L442.7,276.8 L441.5,276.9 L440.3,277.0 L439.0,277.2 L437.8,277.3 L436.5,277.5 L435.3,277.7 L434.1,277.9 L432.9,278.2 L431.7,278.5 L430.5,278.9 L429.4,279.3 L428.2,279.7 L427.1,280.2 L425.9,280.5 L424.7,280.8 L423.5,281.1 L422.3,281.3 L421.0,281.5 L419.8,281.7 L418.6,281.9 L417.3,282.1 L416.1,282.3 L414.9,282.6 L413.6,282.8 L412.4,283.0 L411.2,283.3 L409.9,283.6 L408.7,283.8 L407.5,284.1 L406.3,284.3 L405.0,284.6 L403.8,284.9 L402.6,285.2 L401.4,285.5 L400.2,285.8 L399.0,286.1 L397.8,286.4 L396.6,286.8 L395.3,287.1 L394.1,287.5 L392.9,287.8 L391.7,288.1 L390.5,288.5 L389.3,288.8 L388.1,289.2 L386.9,289.6 L385.7,289.9 L384.5,290.3 L383.3,290.6 L382.1,291.0 L380.9,291.3 L379.7,291.7 L378.5,292.1 L377.3,292.4 L376.1,292.8 L374.9,293.2 L373.7,293.5 L372.5,293.9 L371.3,294.2 L370.1,294.6 L368.9,295.0 L367.7,295.3 L366.5,295.7 L365.3,296.1 L364.1,296.4 L362.9,296.8 L361.7,297.1 L360.5,297.5 L359.3,297.9 L358.1,298.2 L356.9,298.6 L355.7,298.9 L354.5,299.3 L353.3,299.7 L352.1,300.0 L351.0,300.4 L349.8,300.8 L348.6,301.2 L347.4,301.7 L346.2,302.1 L345.1,302.5 L343.9,303.0 L342.7,303.4 L341.5,303.8 L340.4,304.2 L339.2,304.6 L338.0,305.0 L336.8,305.4 L335.6,305.7 L334.4,306.1 L333.2,306.4 L332.0,306.8 L330.8,307.1 L329.5,307.4 L328.3,307.7 L327.1,308.0 L325.9,308.3 L324.7,308.6 L323.5,308.9 L322.3,309.2 L321.0,309.5 L319.8,309.8 L318.6,310.1 L317.4,310.4 L316.2,310.6 L314.9,310.9 L313.7,311.1 L312.5,311.4 L311.2,311.6 L310.0,311.9 L308.8,312.1 L307.6,312.3 L306.3,312.5 L305.1,312.8 L303.8,313.0 L302.6,313.2 L301.4,313.3 L300.1,313.5 L298.9,313.7 L297.7,313.9 L296.4,314.0 L295.2,314.1 L293.9,314.3 L292.7,314.4 L291.4,314.5 L290.2,314.6 L288.9,314.7 L287.7,314.8 L286.4,314.9 L285.2,315.0 L283.9,315.1 L282.7,315.2 L281.4,315.3 L280.2,315.4 L278.9,315.5 L277.7,315.6 L276.4,315.7 L275.2,315.8 L273.9,315.9 L272.7,316.0 L271.4,316.1 L270.2,316.2 L268.9,316.3 L267.7,316.3 L266.4,316.4 L265.2,316.4 L263.9,316.5 L262.7,316.5 L261.4,316.5 L260.2,316.5 L258.9,316.5 L257.7,316.5 L256.4,316.5 L255.2,316.5 L253.9,316.5 L252.7,316.5 L251.4,316.5 L250.2,316.5 L248.9,316.5 L247.7,316.5 L246.4,316.5 L245.2,316.5 L243.9,316.5 L242.7,316.5 L241.4,316.5 L240.1,316.5 L238.9,316.5 L237.6,316.6 L236.4,316.6 L235.1,316.6 L233.9,316.6 L232.6,316.7 L231.4,316.7 L230.1,316.8 L228.9,316.8 L227.6,316.9 L226.4,317.0 L225.1,317.1 L223.9,317.2 L222.6,317.3 L221.4,317.4 L220.1,317.5 L218.9,317.7 L217.7,317.8 L216.4,318.0 L215.2,318.1 L213.9,318.3 L212.7,318.5 L211.5,318.7 L210.2,318.9 L209.0,319.1 L207.8,319.4 L206.5,319.6 L205.3,319.9 L204.1,320.1 L202.9,320.4 L201.7,320.7 L200.4,321.1 L199.2,321.4 L198.0,321.7 L196.8,322.1 L195.6,322.5 L194.4,322.9 L193.3,323.3 L192.1,323.7 L190.9,324.1 L189.7,324.6 L188.6,325.0 L187.4,325.5 L186.3,326.0 L185.1,326.5 L184.0,327.1 L182.9,327.6 L181.7,328.1 L180.6,328.7 L179.5,329.3 L178.4,329.9 L177.3,330.5 L176.2,331.1 L175.1,331.7 L174.1,332.3 L173.0,333.0 L171.9,333.6 L170.8,334.3 L169.8,335.0 L168.7,335.6 L167.7,336.3 L166.7,337.0 L165.6,337.8 L164.6,338.5 L163.6,339.2 L162.6,340.0 L161.6,340.8 L160.7,341.6 L159.8,342.4 L158.9,343.3 L157.9,344.2 L157.1,345.0 L156.2,345.9 L155.3,346.8 L154.4,347.7" fill="none" stroke="#00f" stroke-width="2.2" stroke-linejoin="round" stroke-linecap="round"/>
<line x1="145.9" y1="41.0" x2="145.9" y2="503.5" stroke="#000" stroke-width="3.2"/>
<line x1="142.0" y1="502.0" x2="766.0" y2="502.0" stroke="#000" stroke-width="3.2"/>
<line x1="137.3" y1="66.4" x2="145.9" y2="66.4" stroke="#000" stroke-width="3.2"/>
<line x1="137.3" y1="163.2" x2="145.9" y2="163.2" stroke="#000" stroke-width="3.2"/>
<line x1="137.3" y1="260.0" x2="145.9" y2="260.0" stroke="#000" stroke-width="3.2"/>
<line x1="137.3" y1="356.8" x2="145.9" y2="356.8" stroke="#000" stroke-width="3.2"/>
<line x1="137.3" y1="453.6" x2="145.9" y2="453.6" stroke="#000" stroke-width="3.2"/>
<line x1="140.8" y1="114.8" x2="145.9" y2="114.8" stroke="#000" stroke-width="3.2"/>
<line x1="140.8" y1="211.6" x2="145.9" y2="211.6" stroke="#000" stroke-width="3.2"/>
<line x1="140.8" y1="308.4" x2="145.9" y2="308.4" stroke="#000" stroke-width="3.2"/>
<line x1="140.8" y1="405.2" x2="145.9" y2="405.2" stroke="#000" stroke-width="3.2"/>
<line x1="273.0" y1="502.0" x2="273.0" y2="510.6" stroke="#000" stroke-width="3.2"/>
<line x1="417.5" y1="502.0" x2="417.5" y2="510.6" stroke="#000" stroke-width="3.2"/>
<line x1="562.0" y1="502.0" x2="562.0" y2="510.6" stroke="#000" stroke-width="3.2"/>
<line x1="706.5" y1="502.0" x2="706.5" y2="510.6" stroke="#000" stroke-width="3.2"/>
<line x1="200.8" y1="502.0" x2="200.8" y2="507.1" stroke="#000" stroke-width="3.2"/>
<line x1="345.2" y1="502.0" x2="345.2" y2="507.1" stroke="#000" stroke-width="3.2"/>
<line x1="489.8" y1="502.0" x2="489.8" y2="507.1" stroke="#000" stroke-width="3.2"/>
<line x1="634.2" y1="502.0" x2="634.2" y2="507.1" stroke="#000" stroke-width="3.2"/>
<text x="131.0" y="76.9" text-anchor="end" font-size="28" font-weight="bold">8.0x10<tspan font-size="16.5" dy="-13">-5</tspan></text>
<text x="131.0" y="173.7" text-anchor="end" font-size="28" font-weight="bold">4.0x10<tspan font-size="16.5" dy="-13">-5</tspan></text>
<text x="131.0" y="268.3" text-anchor="end" font-size="28" font-weight="bold">0.0</text>
<text x="131.0" y="367.3" text-anchor="end" font-size="28" font-weight="bold">-<tspan dx="-1.5">4.0x10</tspan><tspan font-size="16.5" dy="-13">-5</tspan></text>
<text x="131.0" y="464.1" text-anchor="end" font-size="28" font-weight="bold">-<tspan dx="-1.5">8.0x10</tspan><tspan font-size="16.5" dy="-13">-5</tspan></text>
<text x="273.0" y="538.5" text-anchor="middle" font-size="28" font-weight="bold" letter-spacing="-0.75">-0.50</text>
<text x="417.5" y="538.5" text-anchor="middle" font-size="28" font-weight="bold" letter-spacing="-0.75">-0.25</text>
<text x="562.0" y="538.5" text-anchor="middle" font-size="28" font-weight="bold" letter-spacing="-0.75">0.00</text>
<text x="706.5" y="538.5" text-anchor="middle" font-size="28" font-weight="bold" letter-spacing="-0.75">0.25</text>
<text x="455.6" y="584.3" text-anchor="middle" font-size="28" font-weight="bold">E / V</text>
<text transform="translate(28.2,263.5) rotate(-90)" x="0" y="0" text-anchor="middle" font-size="28" font-weight="bold">I / A</text>
<line x1="470.2" y1="387.8" x2="507.4" y2="387.8" stroke="#000" stroke-width="2.2"/>
<text x="510.5" y="393.8" font-size="16.2">CuONPs</text>
<line x1="470.2" y1="407.4" x2="507.4" y2="407.4" stroke="#f00" stroke-width="2.2"/>
<text x="510.5" y="413.4" font-size="16.2">PEDOT-CuONPs</text>
<line x1="470.2" y1="427.0" x2="507.4" y2="427.0" stroke="#0f0" stroke-width="2.2"/>
<text x="510.5" y="433.0" font-size="16.2">PEDOT</text>
<line x1="470.2" y1="446.6" x2="507.4" y2="446.6" stroke="#00f" stroke-width="2.2"/>
<text x="510.5" y="452.6" font-size="16.2">CuONPs-PEDOT</text>
<path d="M248.3,134.2 L249.3,133.4 L250.2,132.6 L251.2,131.8 L252.2,131.1 L253.2,130.3 L254.3,129.6 L255.3,128.9 L256.4,128.3 L257.5,127.7 L258.6,127.1 L259.7,126.6 L260.9,126.2 L262.1,125.8 L263.3,125.4 L264.5,125.0 L265.7,124.7 L266.9,124.3 L268.1,124.0 L269.3,123.6 L270.5,123.3 L271.7,123.0 L272.9,122.7 L274.2,122.4 L275.4,122.1 L276.6,121.8 L277.8,121.6 L279.0,121.3 L280.3,121.1 L281.5,120.8 L282.7,120.6 L284.0,120.4 L285.2,120.1 L286.4,119.9 L287.7,119.7 L288.9,119.4 L290.1,119.2 L291.3,118.9 L292.6,118.6 L293.8,118.4 L295.0,118.1 L296.3,117.9 L297.5,117.6 L298.7,117.4 L299.9,117.2 L301.2,117.0 L302.4,116.8 L303.6,116.6 L304.9,116.4 L306.1,116.2 L307.4,116.0 L308.6,115.8 L309.8,115.6 L311.1,115.5 L312.3,115.3 L313.6,115.1 L314.8,115.0 L316.1,114.8 L317.3,114.6 L318.5,114.5 L319.8,114.3 L321.0,114.2 L322.3,114.0 L323.5,113.9 L324.8,113.7 L326.0,113.6 L327.3,113.5 L328.5,113.4 L329.7,113.3 L331.0,113.2 L332.2,113.1 L333.5,113.0 L334.7,112.9 L336.0,112.8 L337.2,112.8 L338.5,112.7 L339.7,112.6 L341.0,112.6 L342.3,112.5 L343.5,112.4 L344.8,112.4 L346.0,112.4 L347.3,112.3 L348.5,112.3 L349.8,112.2 L351.0,112.2 L352.3,112.1 L353.5,112.0 L354.8,112.0 L356.0,111.9 L357.3,111.8 L358.5,111.6 L359.8,111.5 L361.0,111.4 L362.3,111.3 L363.5,111.1 L364.7,111.0 L366.0,110.9 L367.2,110.7 L368.5,110.6 L369.7,110.5 L371.0,110.3 L372.2,110.2 L373.5,110.0 L374.7,109.9 L375.9,109.6 L377.1,109.3 L378.3,109.0 L379.5,108.5 L380.7,108.0 L381.8,107.5 L382.9,107.0 L384.1,106.5 L385.3,106.1 L386.4,105.6 L387.6,105.2 L388.8,104.9 L390.1,104.6 L391.3,104.6 L392.5,104.7 L393.8,104.9 L395.0,105.1 L396.3,105.2 L397.5,105.4 L398.8,105.5 L400.0,105.6 L401.2,105.8 L402.5,105.9 L403.7,106.0 L405.0,106.1 L406.2,106.2 L407.5,106.3 L408.7,106.4 L410.0,106.4 L411.2,106.4 L412.5,106.3 L413.7,106.3 L415.0,106.2 L416.2,106.1 L417.5,106.0 L418.7,105.9 L420.0,105.7 L421.2,105.5 L422.5,105.3 L423.7,105.1 L424.9,104.8 L426.1,104.5 L427.3,104.2 L428.5,103.8 L429.7,103.4 L430.9,103.0 L432.1,102.6 L433.3,102.2 L434.4,101.8 L435.6,101.3 L436.7,100.8 L437.8,100.2 L438.9,99.6 L440.1,99.0 L441.2,98.6 L442.4,98.5 L443.3,99.1 L443.7,100.2 L443.7,101.4 L443.7,102.7 L443.5,103.9 L443.4,105.1 L443.2,106.4 L443.1,107.6 L442.9,108.9 L442.8,110.1 L442.8,111.4 L442.8,112.6 L442.9,113.9 L442.8,115.1 L442.5,116.3 L441.9,117.4 L441.0,118.2 L440.0,118.8 L438.8,119.3 L437.6,119.6 L436.3,119.8 L435.1,120.0 L433.9,120.1 L432.6,120.2 L431.4,120.2 L430.1,120.2 L428.8,120.2 L427.6,120.2 L426.3,120.1 L425.1,120.1 L423.8,120.0 L422.6,119.9 L421.3,119.8 L420.1,119.7 L418.9,119.5 L417.6,119.4 L416.4,119.2 L415.1,119.1 L413.9,119.0 L412.6,118.8 L411.4,118.7 L410.1,118.6 L408.9,118.5 L407.6,118.4 L406.4,118.3 L405.1,118.2 L403.9,118.1 L402.6,118.0 L401.4,118.0 L400.1,117.9 L398.9,117.8 L397.6,117.7 L396.4,117.7 L395.1,117.6 L393.9,117.5 L392.6,117.5 L391.4,117.4 L390.1,117.4 L388.9,117.3 L387.6,117.3 L386.4,117.2 L385.1,117.2 L383.9,117.2 L382.6,117.2 L381.4,117.2 L380.1,117.2 L378.9,117.3 L377.6,117.3 L376.3,117.4 L375.1,117.4 L373.8,117.5 L372.6,117.5 L371.3,117.6 L370.1,117.6 L368.8,117.7 L367.6,117.7 L366.3,117.8 L365.1,117.8 L363.8,117.8 L362.6,117.8 L361.3,117.9 L360.1,117.9 L358.8,117.9 L357.6,117.9 L356.3,118.0 L355.1,118.0 L353.8,118.0 L352.6,118.0 L351.3,118.0 L350.1,118.0 L348.8,118.0 L347.5,118.1 L346.3,118.1 L345.0,118.1 L343.8,118.1 L342.5,118.1 L341.3,118.2 L340.0,118.2 L338.8,118.3 L337.5,118.3 L336.3,118.4 L335.0,118.5 L333.8,118.6 L332.5,118.7 L331.3,118.8 L330.0,118.9 L328.8,119.0 L327.5,119.2 L326.3,119.3 L325.1,119.5 L323.8,119.6 L322.6,119.8 L321.3,120.0 L320.1,120.1 L318.9,120.3 L317.6,120.5 L316.4,120.7 L315.1,121.0 L313.9,121.2 L312.7,121.4 L311.5,121.7 L310.3,122.1 L309.1,122.5 L307.9,122.9 L306.7,123.3 L305.6,123.8 L304.4,124.3 L303.3,124.8 L302.1,125.4 L301.0,125.9 L299.8,126.3 L298.7,126.8 L297.5,127.3 L296.3,127.7 L295.2,128.1 L294.0,128.5 L292.8,128.9 L291.6,129.3 L290.4,129.6 L289.2,130.0 L288.0,130.3 L286.8,130.7 L285.6,131.0 L284.3,131.3 L283.1,131.6 L281.9,131.9 L280.7,132.2 L279.5,132.5 L278.2,132.7 L277.0,132.9 L275.8,133.1 L274.5,133.3 L273.3,133.5 L272.0,133.6 L270.8,133.8 L269.6,133.9 L268.3,134.1 L267.1,134.2 L265.8,134.3 L264.6,134.4 L263.3,134.4 L262.1,134.5 L260.8,134.5 L259.6,134.5 L258.3,134.6 L257.0,134.6 L255.8,134.6 L254.5,134.6 L253.3,134.6 L252.0,134.6 L250.8,134.5 L249.5,134.4 L248.3,134.2" fill="none" stroke="#000" stroke-width="1.4" stroke-linejoin="round" stroke-linecap="round"/>
<path d="M248.1,167.5 L248.2,166.2 L248.2,165.0 L248.3,163.7 L248.3,162.5 L248.4,161.2 L248.4,160.0 L248.5,158.7 L248.6,157.5 L248.6,156.2 L248.7,155.0 L248.8,153.7 L249.0,152.5 L249.1,151.2 L249.2,150.0 L249.4,148.7 L249.5,147.5 L249.7,146.2 L249.9,145.0 L250.0,143.7 L250.2,142.5 L250.4,141.3 L250.7,140.0 L250.9,138.8 L251.2,137.6 L251.4,136.4 L251.8,135.1 L252.1,133.9 L252.5,132.7 L252.9,131.6 L253.4,130.4 L254.0,129.3 L254.6,128.2 L255.3,127.2 L256.0,126.1 L256.8,125.2 L257.7,124.2 L258.6,123.4 L259.6,122.7 L260.7,122.0 L261.8,121.5 L263.0,121.0 L264.1,120.5 L265.3,120.1 L266.5,119.6 L267.6,119.1 L268.8,118.7 L270.0,118.3 L271.2,117.9 L272.4,117.5 L273.6,117.1 L274.8,116.8 L276.0,116.4 L277.2,116.1 L278.4,115.8 L279.6,115.5 L280.9,115.2 L282.1,114.9 L283.3,114.7 L284.5,114.4 L285.8,114.1 L287.0,113.8 L288.2,113.5 L289.4,113.3 L290.6,113.0 L291.9,112.7 L293.1,112.5 L294.3,112.2 L295.6,111.9 L296.8,111.7 L298.0,111.4 L299.2,111.1 L300.4,110.8 L301.7,110.5 L302.9,110.2 L304.1,109.8 L305.3,109.5 L306.5,109.2 L307.7,108.8 L308.9,108.5 L310.1,108.1 L311.3,107.8 L312.5,107.4 L313.8,107.1 L315.0,106.8 L316.2,106.4 L317.4,106.1 L318.6,105.7 L319.8,105.4 L321.0,105.1 L322.2,104.9 L323.5,104.7 L324.7,104.5 L326.0,104.4 L327.2,104.3 L328.5,104.2 L329.7,104.1 L331.0,104.1 L332.2,104.0 L333.5,104.0 L334.7,104.0 L336.0,104.1 L337.3,104.2 L338.5,104.2 L339.8,104.3 L341.0,104.3 L342.3,104.3 L343.5,104.3 L344.8,104.3 L346.0,104.3 L347.3,104.3 L348.5,104.3 L349.8,104.3 L351.1,104.3 L352.3,104.2 L353.6,104.2 L354.8,104.2 L356.1,104.2 L357.3,104.1 L358.6,104.1 L359.8,104.1 L361.1,104.0 L362.3,104.0 L363.6,103.9 L364.9,103.9 L366.1,103.8 L367.4,103.7 L368.6,103.6 L369.8,103.4 L371.1,103.2 L372.3,103.0 L373.6,102.7 L374.8,102.4 L376.0,102.1 L377.2,101.8 L378.4,101.4 L379.6,101.1 L380.8,100.8 L382.0,100.4 L383.3,100.1 L384.5,99.9 L385.7,99.6 L386.9,99.3 L388.1,99.0 L389.4,98.8 L390.6,98.5 L391.8,98.2 L393.1,98.0 L394.3,97.7 L395.5,97.4 L396.7,97.1 L397.9,96.8 L399.2,96.5 L400.4,96.2 L401.6,95.8 L402.8,95.4 L403.9,95.0 L405.1,94.6 L406.3,94.1 L407.5,93.7 L408.6,93.2 L409.8,92.7 L410.9,92.1 L412.0,91.5 L413.1,90.9 L414.1,90.2 L415.1,89.4 L416.1,88.7 L417.0,87.8 L418.0,87.0 L418.8,86.1 L419.7,85.1 L420.5,84.2 L421.4,83.3 L422.2,82.3 L422.9,81.3 L423.6,80.3 L424.4,79.2 L425.1,78.2 L425.8,77.2 L426.4,76.1 L427.1,75.0 L427.7,74.0 L428.4,72.9 L429.0,71.8 L429.6,70.7 L430.2,69.6 L430.8,68.5 L431.4,67.4 L431.9,66.2 L432.4,65.1 L432.9,63.9 L433.4,62.8 L433.9,61.6 L434.3,60.5 L434.8,59.3 L435.2,58.1 L435.6,56.9 L436.1,55.7 L436.5,54.6 L436.9,53.4 L437.3,52.2 L437.7,51.0 L438.2,49.8 L438.6,48.6 L439.0,47.4 L439.3,46.2 L439.7,45.0 L440.1,43.8 L440.4,42.6 L440.8,41.4 L441.1,40.2 L441.5,39.0 L441.8,37.8 L442.2,36.6 L442.5,35.4" fill="none" stroke="#f00" stroke-width="1.4" stroke-linejoin="round" stroke-linecap="round"/>
<path d="M443.5,98.5 L443.4,99.8 L443.3,101.0 L443.2,102.3 L443.1,103.5 L443.1,104.8 L443.0,106.0 L442.9,107.3 L442.8,108.5 L442.7,109.8 L442.6,111.0 L442.5,112.3 L442.4,113.5 L442.3,114.8 L442.3,116.0 L442.2,117.3 L442.1,118.5 L442.0,119.8 L442.0,121.0 L441.9,122.3 L441.8,123.6 L441.8,124.8 L441.7,126.1 L441.6,127.3 L441.6,128.6 L441.5,129.8 L441.4,131.1 L441.3,132.3 L441.2,133.6 L441.1,134.8 L441.0,136.1 L440.8,137.3 L440.7,138.6 L440.5,139.8 L440.2,141.0 L439.7,142.2 L438.9,142.9 L437.8,142.9 L436.8,142.3 L435.8,141.5 L434.9,140.6 L433.9,139.8 L433.0,139.0 L432.0,138.3 L431.0,137.5 L430.0,136.7 L429.1,135.9 L428.1,135.1 L427.0,134.4 L426.0,133.7 L424.9,133.1 L423.8,132.4 L422.7,131.8 L421.6,131.2 L420.5,130.6 L419.4,130.1 L418.3,129.5 L417.2,128.9 L416.0,128.4 L414.9,127.8 L413.7,127.3 L412.6,126.8 L411.4,126.3 L410.3,125.9 L409.1,125.4 L407.9,125.0 L406.7,124.6 L405.5,124.2 L404.3,123.8 L403.1,123.4 L401.9,123.1 L400.7,122.8 L399.5,122.5 L398.3,122.2 L397.1,121.9 L395.8,121.7 L394.6,121.5 L393.3,121.3 L392.1,121.1 L390.9,121.0 L389.6,120.9 L388.4,120.8 L387.1,120.7 L385.8,120.6 L384.6,120.6 L383.3,120.5 L382.1,120.5 L380.8,120.5 L379.6,120.5 L378.3,120.5 L377.1,120.6 L375.8,120.7 L374.6,120.7 L373.3,120.8 L372.0,120.9 L370.8,121.0 L369.5,121.1 L368.3,121.2 L367.0,121.3 L365.8,121.4 L364.5,121.5 L363.3,121.6 L362.0,121.7 L360.8,121.9 L359.5,122.0 L358.3,122.1 L357.0,122.3 L355.8,122.4 L354.6,122.6 L353.3,122.7 L352.1,122.9 L350.8,123.1 L349.6,123.3 L348.3,123.4 L347.1,123.6 L345.9,123.8 L344.6,124.0 L343.4,124.2 L342.1,124.4 L340.9,124.7 L339.7,124.9 L338.4,125.1 L337.2,125.3 L335.9,125.5 L334.7,125.7 L333.5,126.0 L332.3,126.3 L331.1,126.7 L329.9,127.0 L328.7,127.4 L327.5,127.8 L326.3,128.3 L325.2,128.8 L324.0,129.3 L322.9,129.9 L321.8,130.5 L320.7,131.1 L319.6,131.7 L318.6,132.4 L317.6,133.2 L316.6,133.9 L315.5,134.6 L314.5,135.4 L313.5,136.1 L312.5,136.8 L311.5,137.6 L310.5,138.3 L309.5,139.1 L308.4,139.8 L307.4,140.4 L306.2,141.0 L305.1,141.6 L303.9,142.0 L302.8,142.5 L301.6,142.9 L300.4,143.3 L299.2,143.7 L298.0,144.1 L296.8,144.5 L295.6,144.8 L294.4,145.1 L293.2,145.4 L291.9,145.6 L290.7,145.8 L289.5,146.0 L288.2,146.2 L287.0,146.3 L285.7,146.4 L284.5,146.5 L283.2,146.6 L282.0,146.6 L280.7,146.7 L279.4,146.7 L278.2,146.8 L276.9,146.8 L275.7,146.8 L274.4,146.9 L273.2,146.9 L271.9,147.0 L270.7,147.2 L269.4,147.3 L268.2,147.5 L267.0,147.8 L265.7,148.0 L264.5,148.3 L263.3,148.6 L262.1,149.0 L261.0,149.5 L259.9,150.2 L258.9,150.9 L258.0,151.8 L257.1,152.6 L256.2,153.5 L255.3,154.5 L254.5,155.4 L253.7,156.4 L252.9,157.3 L252.2,158.4 L251.5,159.4 L250.9,160.5 L250.3,161.6 L249.8,162.8 L249.3,163.9 L248.9,165.1 L248.5,166.3 L248.1,167.5" fill="none" stroke="#f00" stroke-width="1.4" stroke-linejoin="round" stroke-linecap="round"/>
<line x1="230.3" y1="15.4" x2="230.3" y2="188.9" stroke="#000" stroke-width="1.5"/>
<line x1="228.2" y1="188.2" x2="463.6" y2="188.2" stroke="#000" stroke-width="1.5"/>
<line x1="226.3" y1="16.3" x2="230.3" y2="16.3" stroke="#000" stroke-width="1.5"/>
<line x1="226.3" y1="65.3" x2="230.3" y2="65.3" stroke="#000" stroke-width="1.5"/>
<line x1="226.3" y1="114.3" x2="230.3" y2="114.3" stroke="#000" stroke-width="1.5"/>
<line x1="226.3" y1="163.3" x2="230.3" y2="163.3" stroke="#000" stroke-width="1.5"/>
<line x1="227.8" y1="40.8" x2="230.3" y2="40.8" stroke="#000" stroke-width="1.5"/>
<line x1="227.8" y1="89.8" x2="230.3" y2="89.8" stroke="#000" stroke-width="1.5"/>
<line x1="227.8" y1="138.8" x2="230.3" y2="138.8" stroke="#000" stroke-width="1.5"/>
<line x1="227.8" y1="187.8" x2="230.3" y2="187.8" stroke="#000" stroke-width="1.5"/>
<line x1="269.1" y1="188.2" x2="269.1" y2="192.2" stroke="#000" stroke-width="1.5"/>
<line x1="327.1" y1="188.2" x2="327.1" y2="192.2" stroke="#000" stroke-width="1.5"/>
<line x1="385.1" y1="188.2" x2="385.1" y2="192.2" stroke="#000" stroke-width="1.5"/>
<line x1="443.1" y1="188.2" x2="443.1" y2="192.2" stroke="#000" stroke-width="1.5"/>
<line x1="240.1" y1="188.2" x2="240.1" y2="190.7" stroke="#000" stroke-width="1.5"/>
<line x1="298.1" y1="188.2" x2="298.1" y2="190.7" stroke="#000" stroke-width="1.5"/>
<line x1="356.1" y1="188.2" x2="356.1" y2="190.7" stroke="#000" stroke-width="1.5"/>
<line x1="414.1" y1="188.2" x2="414.1" y2="190.7" stroke="#000" stroke-width="1.5"/>
<text x="224.5" y="20.6" text-anchor="end" font-size="12.7" font-weight="bold">4.0x10<tspan font-size="7.5" dy="-7">-5</tspan></text>
<text x="224.5" y="69.6" text-anchor="end" font-size="12.7" font-weight="bold">2.0x10<tspan font-size="7.5" dy="-7">-5</tspan></text>
<text x="224.5" y="118.6" text-anchor="end" font-size="12.7" font-weight="bold">0.0</text>
<text x="224.5" y="167.6" text-anchor="end" font-size="12.7" font-weight="bold">-2.0x10<tspan font-size="7.5" dy="-7">-5</tspan></text>
<text x="269.1" y="204.2" text-anchor="middle" font-size="12.7" font-weight="bold">-0.6</text>
<text x="327.1" y="204.2" text-anchor="middle" font-size="12.7" font-weight="bold">-0.3</text>
<text x="385.1" y="204.2" text-anchor="middle" font-size="12.7" font-weight="bold">0.0</text>
<text x="443.1" y="204.2" text-anchor="middle" font-size="12.7" font-weight="bold">0.3</text>
<text x="353.5" y="223.9" text-anchor="middle" font-size="16" font-weight="bold">E / V</text>
<text transform="translate(189.4,106.0) rotate(-90)" x="0" y="0" text-anchor="middle" font-size="18" font-weight="bold">I / A</text>
<line x1="248.0" y1="42.4" x2="276.4" y2="42.4" stroke="#000" stroke-width="1.7"/>
<text x="280.2" y="46.6" font-size="12.7">GCE-CuONPs-PEDOT</text>
<line x1="248.0" y1="57.8" x2="276.4" y2="57.8" stroke="#f00" stroke-width="1.7"/>
<text x="280.2" y="62.0" font-size="12.7">GCE-PEDOT-CuONPs</text>
</svg>
</body></html>
